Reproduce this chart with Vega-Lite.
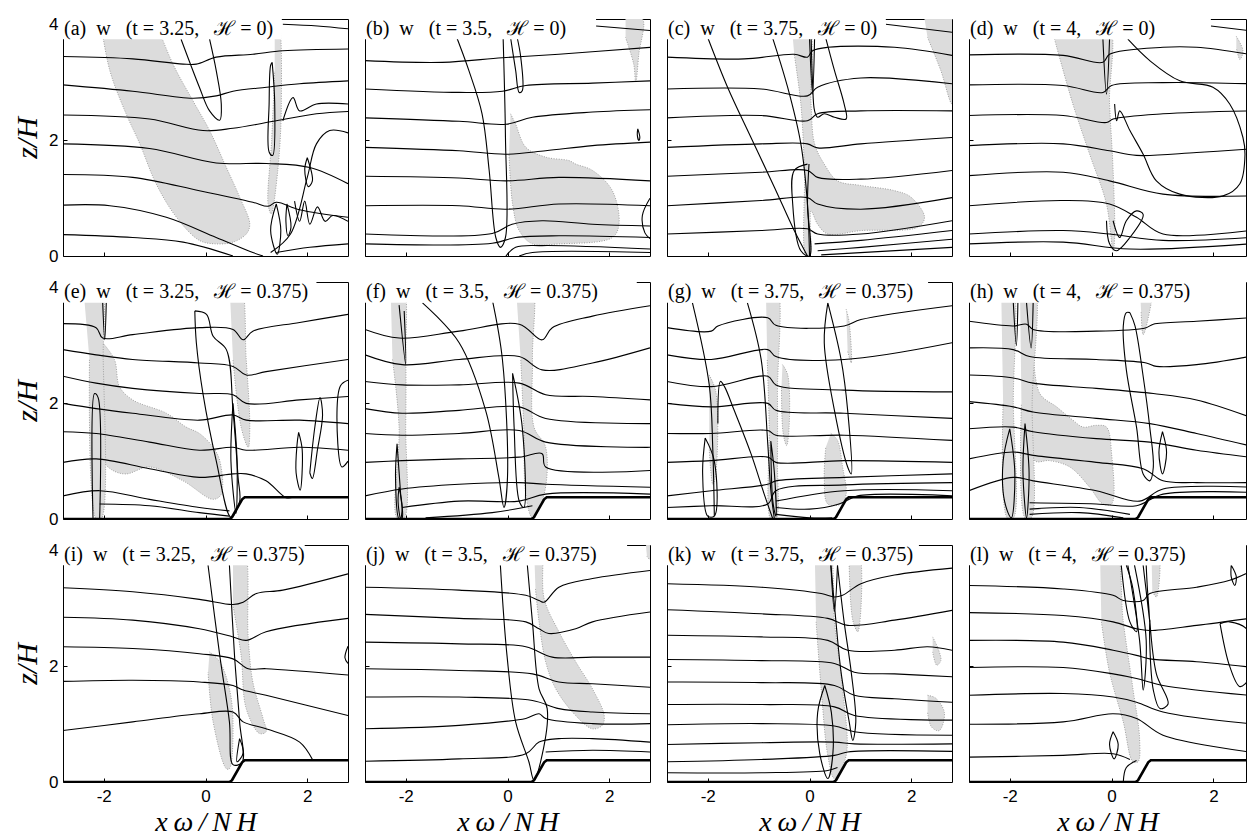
{
  "$schema": "https://vega.github.io/schema/vega-lite/v6.json",
  "background": "white",
  "padding": {"left": 12, "top": 12, "right": 0, "bottom": 0},
  "config": {
    "font": "Liberation Sans",
    "view": {"stroke": "black", "strokeWidth": 1, "fill": "white"},
    "axis": {"grid": false, "domain": false, "tickColor": "black", "tickSize": -4, "tickWidth": 1, "labelColor": "black", "labelFont": "Liberation Sans", "labelFontSize": 17, "titleColor": "black", "titleFont": "Liberation Serif", "titleFontStyle": "italic", "titleFontWeight": "normal", "titleFontSize": 30}
  },
  "datasets": {
    "titles": [
      {"p": "a", "t": "(a)\u2002w\u2002 (t = 3.25,\u2002 ℋ = 0)"},
      {"p": "b", "t": "(b)\u2002w\u2002 (t = 3.5,\u2002 ℋ = 0)"},
      {"p": "c", "t": "(c)\u2002w\u2002 (t = 3.75,\u2002 ℋ = 0)"},
      {"p": "d", "t": "(d)\u2002w\u2002 (t = 4,\u2002 ℋ = 0)"},
      {"p": "e", "t": "(e)\u2002w\u2002 (t = 3.25,\u2002 ℋ = 0.375)"},
      {"p": "f", "t": "(f)\u2002w\u2002 (t = 3.5,\u2002 ℋ = 0.375)"},
      {"p": "g", "t": "(g)\u2002w\u2002 (t = 3.75,\u2002 ℋ = 0.375)"},
      {"p": "h", "t": "(h)\u2002w\u2002 (t = 4,\u2002 ℋ = 0.375)"},
      {"p": "i", "t": "(i)\u2002w\u2002 (t = 3.25,\u2002 ℋ = 0.375)"},
      {"p": "j", "t": "(j)\u2002w\u2002 (t = 3.5,\u2002 ℋ = 0.375)"},
      {"p": "k", "t": "(k)\u2002w\u2002 (t = 3.75,\u2002 ℋ = 0.375)"},
      {"p": "l", "t": "(l)\u2002w\u2002 (t = 4,\u2002 ℋ = 0.375)"}
    ],
    "topo": [
      {"p":"e","x":-2.8,"y":0},{"p":"e","x":0.47,"y":0},{"p":"e","x":0.52,"y":0.03},{"p":"e","x":0.72,"y":0.34},{"p":"e","x":0.77,"y":0.375},{"p":"e","x":2.8,"y":0.375},
      {"p":"f","x":-2.8,"y":0},{"p":"f","x":0.47,"y":0},{"p":"f","x":0.52,"y":0.03},{"p":"f","x":0.72,"y":0.34},{"p":"f","x":0.77,"y":0.375},{"p":"f","x":2.8,"y":0.375},
      {"p":"g","x":-2.8,"y":0},{"p":"g","x":0.47,"y":0},{"p":"g","x":0.52,"y":0.03},{"p":"g","x":0.72,"y":0.34},{"p":"g","x":0.77,"y":0.375},{"p":"g","x":2.8,"y":0.375},
      {"p":"h","x":-2.8,"y":0},{"p":"h","x":0.47,"y":0},{"p":"h","x":0.52,"y":0.03},{"p":"h","x":0.72,"y":0.34},{"p":"h","x":0.77,"y":0.375},{"p":"h","x":2.8,"y":0.375},
      {"p":"i","x":-2.8,"y":0},{"p":"i","x":0.47,"y":0},{"p":"i","x":0.52,"y":0.03},{"p":"i","x":0.72,"y":0.34},{"p":"i","x":0.77,"y":0.375},{"p":"i","x":2.8,"y":0.375},
      {"p":"j","x":-2.8,"y":0},{"p":"j","x":0.47,"y":0},{"p":"j","x":0.52,"y":0.03},{"p":"j","x":0.72,"y":0.34},{"p":"j","x":0.77,"y":0.375},{"p":"j","x":2.8,"y":0.375},
      {"p":"k","x":-2.8,"y":0},{"p":"k","x":0.47,"y":0},{"p":"k","x":0.52,"y":0.03},{"p":"k","x":0.72,"y":0.34},{"p":"k","x":0.77,"y":0.375},{"p":"k","x":2.8,"y":0.375},
      {"p":"l","x":-2.8,"y":0},{"p":"l","x":0.47,"y":0},{"p":"l","x":0.52,"y":0.03},{"p":"l","x":0.72,"y":0.34},{"p":"l","x":0.77,"y":0.375},{"p":"l","x":2.8,"y":0.375}
    ],
    "fills": [
      {"p":"a","g":1,"x":-2.07,"y":4.1},{"p":"a","g":1,"x":-1.88,"y":3.21},{"p":"a","g":1,"x":-1.56,"y":2.46},{"p":"a","g":1,"x":-1.29,"y":1.94},{"p":"a","g":1,"x":-0.97,"y":1.25},{"p":"a","g":1,"x":-0.57,"y":0.67},{"p":"a","g":1,"x":-0.12,"y":0.27},{"p":"a","g":1,"x":0.21,"y":0.21},{"p":"a","g":1,"x":0.54,"y":0.24},{"p":"a","g":1,"x":0.8,"y":0.38},{"p":"a","g":1,"x":0.87,"y":0.55},{"p":"a","g":1,"x":0.67,"y":1.02},{"p":"a","g":1,"x":0.41,"y":1.53},{"p":"a","g":1,"x":0.08,"y":2.17},{"p":"a","g":1,"x":-0.25,"y":2.69},{"p":"a","g":1,"x":-0.64,"y":3.32},{"p":"a","g":1,"x":-1.0,"y":4.1},
      {"p":"a","g":2,"x":1.36,"y":4.1},{"p":"a","g":2,"x":1.42,"y":4.1},{"p":"a","g":2,"x":1.49,"y":2.63},{"p":"a","g":2,"x":1.42,"y":1.48},{"p":"a","g":2,"x":1.29,"y":0.73},{"p":"a","g":2,"x":1.23,"y":0.9},{"p":"a","g":2,"x":1.3,"y":2.0},{"p":"a","g":2,"x":1.36,"y":3.2},
      {"p":"b","g":1,"x":0.06,"y":2.46},{"p":"b","g":1,"x":0.16,"y":2.28},{"p":"b","g":1,"x":0.36,"y":1.88},{"p":"b","g":1,"x":0.75,"y":1.71},{"p":"b","g":1,"x":1.21,"y":1.65},{"p":"b","g":1,"x":1.34,"y":1.59},{"p":"b","g":1,"x":1.67,"y":1.48},{"p":"b","g":1,"x":2.06,"y":1.13},{"p":"b","g":1,"x":2.19,"y":0.55},{"p":"b","g":1,"x":2.06,"y":0.32},{"p":"b","g":1,"x":1.01,"y":0.21},{"p":"b","g":1,"x":0.49,"y":0.21},{"p":"b","g":1,"x":0.23,"y":0.44},{"p":"b","g":1,"x":0.1,"y":0.9},{"p":"b","g":1,"x":0.03,"y":1.77},
      {"p":"b","g":2,"x":2.32,"y":4.1},{"p":"b","g":2,"x":2.65,"y":4.1},{"p":"b","g":2,"x":2.58,"y":3.49},{"p":"b","g":2,"x":2.52,"y":3.0},{"p":"b","g":2,"x":2.48,"y":3.32},{"p":"b","g":2,"x":2.32,"y":3.78},
      {"p":"c","g":1,"x":-0.36,"y":4.1},{"p":"c","g":1,"x":-0.04,"y":4.1},{"p":"c","g":1,"x":0.03,"y":2.63},{"p":"c","g":1,"x":0.1,"y":1.94},{"p":"c","g":1,"x":0.29,"y":1.59},{"p":"c","g":1,"x":0.55,"y":1.3},{"p":"c","g":1,"x":1.01,"y":1.22},{"p":"c","g":1,"x":1.67,"y":1.13},{"p":"c","g":1,"x":1.99,"y":1.02},{"p":"c","g":1,"x":2.26,"y":0.67},{"p":"c","g":1,"x":2.13,"y":0.5},{"p":"c","g":1,"x":1.01,"y":0.44},{"p":"c","g":1,"x":0.36,"y":0.38},{"p":"c","g":1,"x":0.16,"y":0.55},{"p":"c","g":1,"x":0.03,"y":0.78},{"p":"c","g":1,"x":0.0,"y":0.0},{"p":"c","g":1,"x":-0.07,"y":0.0},{"p":"c","g":1,"x":-0.1,"y":1.48},{"p":"c","g":1,"x":-0.17,"y":2.63},{"p":"c","g":1,"x":-0.3,"y":3.49},
      {"p":"c","g":2,"x":2.26,"y":4.1},{"p":"c","g":2,"x":2.8,"y":4.1},{"p":"c","g":2,"x":2.8,"y":2.63},{"p":"c","g":2,"x":2.58,"y":3.21},{"p":"c","g":2,"x":2.32,"y":3.78},
      {"p":"d","g":1,"x":-1.15,"y":4.1},{"p":"d","g":1,"x":-0.1,"y":4.1},{"p":"d","g":1,"x":-0.04,"y":2.63},{"p":"d","g":1,"x":0.03,"y":1.48},{"p":"d","g":1,"x":0.06,"y":0.32},{"p":"d","g":1,"x":0.03,"y":0.09},{"p":"d","g":1,"x":-0.1,"y":0.9},{"p":"d","g":1,"x":-0.43,"y":1.76},{"p":"d","g":1,"x":-0.76,"y":2.63},{"p":"d","g":1,"x":-1.12,"y":3.75},
      {"p":"d","g":2,"x":2.45,"y":3.8},{"p":"d","g":2,"x":2.58,"y":3.55},{"p":"d","g":2,"x":2.52,"y":3.4},{"p":"d","g":2,"x":2.45,"y":3.6},
      {"p":"e","g":1,"x":-2.05,"y":3.08},{"p":"e","g":1,"x":-1.79,"y":2.76},{"p":"e","g":1,"x":-1.69,"y":2.29},{"p":"e","g":1,"x":-1.43,"y":2.06},{"p":"e","g":1,"x":-0.77,"y":1.83},{"p":"e","g":1,"x":-0.38,"y":1.59},{"p":"e","g":1,"x":-0.12,"y":1.48},{"p":"e","g":1,"x":0.15,"y":1.24},{"p":"e","g":1,"x":0.28,"y":1.01},{"p":"e","g":1,"x":0.31,"y":0.43},{"p":"e","g":1,"x":0.15,"y":0.34},{"p":"e","g":1,"x":-0.44,"y":0.66},{"p":"e","g":1,"x":-1.1,"y":0.9},{"p":"e","g":1,"x":-1.56,"y":0.78},{"p":"e","g":1,"x":-1.82,"y":0.84},{"p":"e","g":1,"x":-2.01,"y":1.01},{"p":"e","g":1,"x":-2.05,"y":1.59},{"p":"e","g":1,"x":-2.05,"y":2.76},
      {"p":"e","g":2,"x":-2.41,"y":4.1},{"p":"e","g":2,"x":-2.08,"y":4.1},{"p":"e","g":2,"x":-2.01,"y":2.76},{"p":"e","g":2,"x":-2.05,"y":0.0},{"p":"e","g":2,"x":-2.15,"y":0.0},{"p":"e","g":2,"x":-2.28,"y":2.76},
      {"p":"e","g":3,"x":0.47,"y":4.1},{"p":"e","g":3,"x":0.67,"y":4.1},{"p":"e","g":3,"x":0.8,"y":2.76},{"p":"e","g":3,"x":0.87,"y":1.59},{"p":"e","g":3,"x":0.84,"y":1.24},{"p":"e","g":3,"x":0.7,"y":1.59},{"p":"e","g":3,"x":0.54,"y":2.76},
      {"p":"f","g":1,"x":-2.3,"y":4.1},{"p":"f","g":1,"x":-2.07,"y":4.1},{"p":"f","g":1,"x":-2.0,"y":2.76},{"p":"f","g":1,"x":-2.0,"y":1.59},{"p":"f","g":1,"x":-2.03,"y":0.02},{"p":"f","g":1,"x":-2.17,"y":0.02},{"p":"f","g":1,"x":-2.13,"y":1.59},{"p":"f","g":1,"x":-2.26,"y":2.76},
      {"p":"f","g":2,"x":0.16,"y":4.1},{"p":"f","g":2,"x":0.46,"y":4.1},{"p":"f","g":2,"x":0.49,"y":2.76},{"p":"f","g":2,"x":0.52,"y":1.59},{"p":"f","g":2,"x":0.75,"y":1.24},{"p":"f","g":2,"x":0.72,"y":0.43},{"p":"f","g":2,"x":0.49,"y":0.02},{"p":"f","g":2,"x":0.36,"y":0.43},{"p":"f","g":2,"x":0.32,"y":1.59},{"p":"f","g":2,"x":0.26,"y":2.76},
      {"p":"g","g":1,"x":-0.86,"y":4.1},{"p":"g","g":1,"x":-0.66,"y":4.1},{"p":"g","g":1,"x":-0.63,"y":2.17},{"p":"g","g":1,"x":-0.63,"y":1.01},{"p":"g","g":1,"x":-0.66,"y":0.0},{"p":"g","g":1,"x":-0.76,"y":0.0},{"p":"g","g":1,"x":-0.79,"y":1.59},{"p":"g","g":1,"x":-0.83,"y":2.76},
      {"p":"g","g":2,"x":-0.53,"y":2.67},{"p":"g","g":2,"x":-0.43,"y":2.5},{"p":"g","g":2,"x":-0.4,"y":1.6},{"p":"g","g":2,"x":-0.45,"y":1.27},{"p":"g","g":2,"x":-0.52,"y":1.5},{"p":"g","g":2,"x":-0.55,"y":2.3},
      {"p":"g","g":3,"x":0.42,"y":1.48},{"p":"g","g":3,"x":0.55,"y":1.36},{"p":"g","g":3,"x":0.65,"y":0.9},{"p":"g","g":3,"x":0.72,"y":0.43},{"p":"g","g":3,"x":0.62,"y":0.26},{"p":"g","g":3,"x":0.36,"y":0.26},{"p":"g","g":3,"x":0.29,"y":0.72},{"p":"g","g":3,"x":0.32,"y":1.24},
      {"p":"g","g":4,"x":0.72,"y":3.63},{"p":"g","g":4,"x":0.78,"y":3.4},{"p":"g","g":4,"x":0.82,"y":2.7},{"p":"g","g":4,"x":0.75,"y":2.9},
      {"p":"g","g":5,"x":-1.97,"y":2.49},{"p":"g","g":5,"x":-1.84,"y":2.2},{"p":"g","g":5,"x":-1.84,"y":0.8},{"p":"g","g":5,"x":-1.9,"y":0.6},{"p":"g","g":5,"x":-1.97,"y":1.2},
      {"p":"h","g":1,"x":-1.54,"y":2.93},{"p":"h","g":1,"x":-1.41,"y":2.17},{"p":"h","g":1,"x":-1.08,"y":1.94},{"p":"h","g":1,"x":-0.76,"y":1.71},{"p":"h","g":1,"x":-0.56,"y":1.59},{"p":"h","g":1,"x":-0.3,"y":1.62},{"p":"h","g":1,"x":-0.1,"y":1.59},{"p":"h","g":1,"x":0.0,"y":1.13},{"p":"h","g":1,"x":0.0,"y":0.26},{"p":"h","g":1,"x":-0.17,"y":0.26},{"p":"h","g":1,"x":-0.43,"y":0.55},{"p":"h","g":1,"x":-0.82,"y":0.9},{"p":"h","g":1,"x":-1.22,"y":1.01},{"p":"h","g":1,"x":-1.51,"y":1.01},{"p":"h","g":1,"x":-1.58,"y":2.17},
      {"p":"h","g":2,"x":-2.17,"y":4.1},{"p":"h","g":2,"x":-1.97,"y":4.1},{"p":"h","g":2,"x":-1.93,"y":2.0},{"p":"h","g":2,"x":-1.93,"y":0.02},{"p":"h","g":2,"x":-2.05,"y":0.02},{"p":"h","g":2,"x":-2.13,"y":2.0},
      {"p":"h","g":3,"x":-1.8,"y":4.1},{"p":"h","g":3,"x":-1.54,"y":4.1},{"p":"h","g":3,"x":-1.56,"y":2.0},{"p":"h","g":3,"x":-1.58,"y":0.02},{"p":"h","g":3,"x":-1.7,"y":0.02},{"p":"h","g":3,"x":-1.77,"y":2.0},
      {"p":"h","g":4,"x":0.55,"y":4.1},{"p":"h","g":4,"x":0.78,"y":4.1},{"p":"h","g":4,"x":0.7,"y":3.4},{"p":"h","g":4,"x":0.62,"y":3.19},{"p":"h","g":4,"x":0.58,"y":3.6},
      {"p":"i","g":1,"x":0.08,"y":2.25},{"p":"i","g":1,"x":0.28,"y":2.08},{"p":"i","g":1,"x":0.47,"y":1.61},{"p":"i","g":1,"x":0.54,"y":1.04},{"p":"i","g":1,"x":0.47,"y":0.23},{"p":"i","g":1,"x":0.41,"y":0.23},{"p":"i","g":1,"x":0.15,"y":1.04},{"p":"i","g":1,"x":0.05,"y":1.9},
      {"p":"i","g":2,"x":0.54,"y":4.1},{"p":"i","g":2,"x":0.74,"y":4.1},{"p":"i","g":2,"x":0.84,"y":2.48},{"p":"i","g":2,"x":0.93,"y":1.73},{"p":"i","g":2,"x":1.13,"y":1.1},{"p":"i","g":2,"x":1.19,"y":0.87},{"p":"i","g":2,"x":1.06,"y":0.84},{"p":"i","g":2,"x":0.8,"y":1.27},{"p":"i","g":2,"x":0.7,"y":2.19},{"p":"i","g":2,"x":0.54,"y":3.06},
      {"p":"j","g":1,"x":0.52,"y":4.1},{"p":"j","g":1,"x":0.65,"y":4.1},{"p":"j","g":1,"x":0.72,"y":3.17},{"p":"j","g":1,"x":1.01,"y":2.6},{"p":"j","g":1,"x":1.34,"y":2.08},{"p":"j","g":1,"x":1.67,"y":1.61},{"p":"j","g":1,"x":1.9,"y":1.15},{"p":"j","g":1,"x":1.86,"y":0.98},{"p":"j","g":1,"x":1.67,"y":0.92},{"p":"j","g":1,"x":1.34,"y":1.15},{"p":"j","g":1,"x":0.95,"y":1.61},{"p":"j","g":1,"x":0.75,"y":2.08},{"p":"j","g":1,"x":0.62,"y":2.77},{"p":"j","g":1,"x":0.55,"y":3.34},
      {"p":"j","g":2,"x":2.72,"y":4.1},{"p":"j","g":2,"x":2.8,"y":4.1},{"p":"j","g":2,"x":2.8,"y":3.85},{"p":"j","g":2,"x":2.74,"y":3.9},
      {"p":"k","g":1,"x":0.1,"y":4.1},{"p":"k","g":1,"x":0.36,"y":4.1},{"p":"k","g":1,"x":0.49,"y":2.77},{"p":"k","g":1,"x":0.65,"y":1.61},{"p":"k","g":1,"x":0.72,"y":0.46},{"p":"k","g":1,"x":0.49,"y":0.06},{"p":"k","g":1,"x":0.36,"y":0.46},{"p":"k","g":1,"x":0.23,"y":1.61},{"p":"k","g":1,"x":0.13,"y":2.77},
      {"p":"k","g":2,"x":0.78,"y":4.1},{"p":"k","g":2,"x":0.95,"y":4.1},{"p":"k","g":2,"x":0.95,"y":2.6},{"p":"k","g":2,"x":0.85,"y":2.8},{"p":"k","g":2,"x":0.78,"y":3.75},
      {"p":"k","g":3,"x":2.42,"y":2.51},{"p":"k","g":3,"x":2.53,"y":2.3},{"p":"k","g":3,"x":2.58,"y":2.1},{"p":"k","g":3,"x":2.5,"y":2.02},{"p":"k","g":3,"x":2.42,"y":2.25},
      {"p":"k","g":4,"x":2.32,"y":1.5},{"p":"k","g":4,"x":2.48,"y":1.45},{"p":"k","g":4,"x":2.65,"y":1.2},{"p":"k","g":4,"x":2.55,"y":0.89},{"p":"k","g":4,"x":2.4,"y":0.95},{"p":"k","g":4,"x":2.32,"y":1.2},
      {"p":"l","g":1,"x":-0.23,"y":4.1},{"p":"l","g":1,"x":0.06,"y":4.1},{"p":"l","g":1,"x":0.23,"y":2.77},{"p":"l","g":1,"x":0.42,"y":1.61},{"p":"l","g":1,"x":0.55,"y":0.75},{"p":"l","g":1,"x":0.52,"y":0.35},{"p":"l","g":1,"x":0.42,"y":0.35},{"p":"l","g":1,"x":0.23,"y":1.04},{"p":"l","g":1,"x":-0.04,"y":1.9},{"p":"l","g":1,"x":-0.2,"y":2.77},
      {"p":"l","g":2,"x":0.78,"y":4.1},{"p":"l","g":2,"x":0.91,"y":4.1},{"p":"l","g":2,"x":0.88,"y":3.2},{"p":"l","g":2,"x":0.8,"y":3.3}
    ],
    "lines": [
      {"p":"a","g":0,"x":1.52,"y":4.01},{"p":"a","g":0,"x":2.2,"y":3.98},{"p":"a","g":0,"x":2.8,"y":3.93},
      {"p":"a","g":1,"x":-2.8,"y":3.45},{"p":"a","g":1,"x":-1.43,"y":3.41},{"p":"a","g":1,"x":-0.44,"y":3.32},{"p":"a","g":1,"x":-0.18,"y":3.32},{"p":"a","g":1,"x":0.21,"y":3.44},{"p":"a","g":1,"x":0.93,"y":3.49},{"p":"a","g":1,"x":1.52,"y":3.55},{"p":"a","g":1,"x":2.8,"y":3.58},
      {"p":"a","g":2,"x":-2.8,"y":2.96},{"p":"a","g":2,"x":-1.43,"y":2.85},{"p":"a","g":2,"x":-0.25,"y":2.73},{"p":"a","g":2,"x":0.21,"y":2.77},{"p":"a","g":2,"x":0.54,"y":2.85},{"p":"a","g":2,"x":1.2,"y":2.92},{"p":"a","g":2,"x":1.85,"y":2.98},{"p":"a","g":2,"x":2.8,"y":3.03},
      {"p":"a","g":3,"x":-2.8,"y":2.44},{"p":"a","g":3,"x":-1.1,"y":2.37},{"p":"a","g":3,"x":-0.05,"y":2.17},{"p":"a","g":3,"x":0.54,"y":2.21},{"p":"a","g":3,"x":1.39,"y":2.34},{"p":"a","g":3,"x":2.18,"y":2.46},{"p":"a","g":3,"x":2.8,"y":2.5},
      {"p":"a","g":4,"x":-2.8,"y":1.94},{"p":"a","g":4,"x":-1.1,"y":1.86},{"p":"a","g":4,"x":0.21,"y":1.61},{"p":"a","g":4,"x":1.2,"y":1.6},{"p":"a","g":4,"x":2.05,"y":1.53},{"p":"a","g":4,"x":2.8,"y":1.25},
      {"p":"a","g":5,"x":-2.8,"y":1.41},{"p":"a","g":5,"x":-1.43,"y":1.36},{"p":"a","g":5,"x":-0.12,"y":1.13},{"p":"a","g":5,"x":0.93,"y":0.93},{"p":"a","g":5,"x":1.23,"y":0.86},{"p":"a","g":5,"x":1.39,"y":0.93},{"p":"a","g":5,"x":1.85,"y":0.8},{"p":"a","g":5,"x":2.8,"y":0.67},
      {"p":"a","g":6,"x":-2.8,"y":0.88},{"p":"a","g":6,"x":-1.88,"y":0.87},{"p":"a","g":6,"x":-0.77,"y":0.67},{"p":"a","g":6,"x":0.21,"y":0.32},{"p":"a","g":6,"x":0.93,"y":0.06},{"p":"a","g":6,"x":1.13,"y":0.0},
      {"p":"a","g":7,"x":-2.8,"y":0.37},{"p":"a","g":7,"x":-1.43,"y":0.32},{"p":"a","g":7,"x":-0.44,"y":0.24},{"p":"a","g":7,"x":0.54,"y":0.0},
      {"p":"a","g":8,"x":1.39,"y":0.06},{"p":"a","g":8,"x":2.05,"y":0.15},{"p":"a","g":8,"x":2.8,"y":0.21},
      {"p":"a","g":9,"x":1.28,"y":0.06},{"p":"a","g":9,"x":1.67,"y":0.38},{"p":"a","g":9,"x":2.0,"y":1.36},{"p":"a","g":9,"x":2.18,"y":1.94},{"p":"a","g":9,"x":2.44,"y":2.17},{"p":"a","g":9,"x":2.8,"y":2.13},
      {"p":"a","g":10,"x":-0.48,"y":3.75},{"p":"a","g":10,"x":-0.12,"y":2.92},{"p":"a","g":10,"x":0.08,"y":2.51},{"p":"a","g":10,"x":0.28,"y":2.35},{"p":"a","g":10,"x":0.31,"y":2.63},{"p":"a","g":10,"x":0.21,"y":3.21},{"p":"a","g":10,"x":0.08,"y":3.75},
      {"p":"a","g":11,"x":1.31,"y":3.35},{"p":"a","g":11,"x":1.36,"y":2.63},{"p":"a","g":11,"x":1.32,"y":1.74},{"p":"a","g":11,"x":1.25,"y":1.8},{"p":"a","g":11,"x":1.25,"y":2.63},{"p":"a","g":11,"x":1.28,"y":3.3},{"p":"a","g":11,"x":1.31,"y":3.35},
      {"p":"a","g":12,"x":1.39,"y":0.9},{"p":"a","g":12,"x":1.48,"y":0.44},{"p":"a","g":12,"x":1.41,"y":0.03},{"p":"a","g":12,"x":1.28,"y":0.44},{"p":"a","g":12,"x":1.39,"y":0.9},
      {"p":"a","g":13,"x":2.0,"y":1.7},{"p":"a","g":13,"x":2.1,"y":1.3},{"p":"a","g":13,"x":2.02,"y":1.2},{"p":"a","g":13,"x":1.95,"y":1.5},{"p":"a","g":13,"x":2.0,"y":1.7},
      {"p":"a","g":14,"x":1.6,"y":0.9},{"p":"a","g":14,"x":1.68,"y":0.5},{"p":"a","g":14,"x":1.62,"y":0.35},{"p":"a","g":14,"x":1.58,"y":0.6},{"p":"a","g":14,"x":1.6,"y":0.9},
      {"p":"a","g":15,"x":1.75,"y":0.95},{"p":"a","g":15,"x":1.85,"y":0.6},{"p":"a","g":15,"x":1.95,"y":0.95},{"p":"a","g":15,"x":2.05,"y":0.55},{"p":"a","g":15,"x":2.2,"y":0.85},{"p":"a","g":15,"x":2.35,"y":0.6},{"p":"a","g":15,"x":2.5,"y":0.7},{"p":"a","g":15,"x":2.8,"y":0.6},
      {"p":"a","g":16,"x":1.52,"y":2.34},{"p":"a","g":16,"x":1.72,"y":2.74},{"p":"a","g":16,"x":1.85,"y":2.51},{"p":"a","g":16,"x":2.18,"y":2.63},{"p":"a","g":16,"x":2.8,"y":2.63},

      {"p":"b","g":0,"x":1.74,"y":3.98},{"p":"b","g":0,"x":2.8,"y":3.9},
      {"p":"b","g":1,"x":-2.8,"y":3.38},{"p":"b","g":1,"x":-1.28,"y":3.35},{"p":"b","g":1,"x":-0.1,"y":3.43},{"p":"b","g":1,"x":1.01,"y":3.49},{"p":"b","g":1,"x":2.8,"y":3.61},
      {"p":"b","g":2,"x":-2.8,"y":2.89},{"p":"b","g":2,"x":-0.95,"y":2.83},{"p":"b","g":2,"x":-0.1,"y":2.85},{"p":"b","g":2,"x":0.36,"y":2.95},{"p":"b","g":2,"x":1.67,"y":2.99},{"p":"b","g":2,"x":2.8,"y":3.03},
      {"p":"b","g":3,"x":-2.8,"y":2.39},{"p":"b","g":3,"x":-0.95,"y":2.33},{"p":"b","g":3,"x":-0.03,"y":2.28},{"p":"b","g":3,"x":0.49,"y":2.4},{"p":"b","g":3,"x":1.67,"y":2.49},{"p":"b","g":3,"x":2.8,"y":2.53},
      {"p":"b","g":4,"x":-2.8,"y":1.88},{"p":"b","g":4,"x":-0.95,"y":1.82},{"p":"b","g":4,"x":-0.03,"y":1.76},{"p":"b","g":4,"x":0.75,"y":1.82},{"p":"b","g":4,"x":1.67,"y":1.91},{"p":"b","g":4,"x":2.8,"y":1.97},
      {"p":"b","g":5,"x":-2.8,"y":1.38},{"p":"b","g":5,"x":-0.95,"y":1.35},{"p":"b","g":5,"x":-0.03,"y":1.3},{"p":"b","g":5,"x":1.01,"y":1.36},{"p":"b","g":5,"x":2.8,"y":1.3},
      {"p":"b","g":6,"x":-2.8,"y":0.87},{"p":"b","g":6,"x":-0.95,"y":0.87},{"p":"b","g":6,"x":-0.03,"y":0.81},{"p":"b","g":6,"x":1.01,"y":0.9},{"p":"b","g":6,"x":2.8,"y":0.87},
      {"p":"b","g":7,"x":-2.8,"y":0.38},{"p":"b","g":7,"x":-0.3,"y":0.39},{"p":"b","g":7,"x":0.09,"y":0.55},{"p":"b","g":7,"x":0.68,"y":0.61},{"p":"b","g":7,"x":1.67,"y":0.55},{"p":"b","g":7,"x":2.8,"y":0.52},
      {"p":"b","g":8,"x":-2.8,"y":0.21},{"p":"b","g":8,"x":-0.3,"y":0.22},{"p":"b","g":8,"x":0.16,"y":0.32},{"p":"b","g":8,"x":1.01,"y":0.35},{"p":"b","g":8,"x":2.8,"y":0.32},
      {"p":"b","g":9,"x":-0.03,"y":0.0},{"p":"b","g":9,"x":0.16,"y":0.15},{"p":"b","g":9,"x":0.68,"y":0.18},{"p":"b","g":9,"x":2.8,"y":0.12},
      {"p":"b","g":10,"x":0.23,"y":0.0},{"p":"b","g":10,"x":0.49,"y":0.06},{"p":"b","g":10,"x":2.8,"y":0.06},
      {"p":"b","g":11,"x":-1.05,"y":3.9},{"p":"b","g":11,"x":-0.76,"y":3.21},{"p":"b","g":11,"x":-0.5,"y":2.46},{"p":"b","g":11,"x":-0.36,"y":1.48},{"p":"b","g":11,"x":-0.23,"y":0.32},{"p":"b","g":11,"x":-0.14,"y":0.15},{"p":"b","g":11,"x":-0.04,"y":0.32},{"p":"b","g":11,"x":-0.04,"y":2.05},{"p":"b","g":11,"x":-0.09,"y":3.9},
      {"p":"b","g":12,"x":0.06,"y":3.78},{"p":"b","g":12,"x":0.16,"y":3.21},{"p":"b","g":12,"x":0.23,"y":2.83},{"p":"b","g":12,"x":0.29,"y":2.86},{"p":"b","g":12,"x":0.26,"y":3.44},{"p":"b","g":12,"x":0.19,"y":3.78},
      {"p":"b","g":13,"x":2.56,"y":2.2},{"p":"b","g":13,"x":2.6,"y":2.05},{"p":"b","g":13,"x":2.58,"y":2.0},{"p":"b","g":13,"x":2.55,"y":2.1},{"p":"b","g":13,"x":2.56,"y":2.2},
      {"p":"b","g":14,"x":2.8,"y":1.0},{"p":"b","g":14,"x":2.65,"y":0.7},{"p":"b","g":14,"x":2.7,"y":0.4},{"p":"b","g":14,"x":2.8,"y":0.3},

      {"p":"c","g":0,"x":1.5,"y":4.01},{"p":"c","g":0,"x":2.8,"y":3.87},
      {"p":"c","g":1,"x":-2.8,"y":3.44},{"p":"c","g":1,"x":-1.28,"y":3.41},{"p":"c","g":1,"x":-0.3,"y":3.49},{"p":"c","g":1,"x":-0.04,"y":3.44},{"p":"c","g":1,"x":0.06,"y":3.55},{"p":"c","g":1,"x":0.36,"y":3.61},{"p":"c","g":1,"x":1.67,"y":3.61},{"p":"c","g":1,"x":2.8,"y":3.47},
      {"p":"c","g":2,"x":-2.8,"y":2.89},{"p":"c","g":2,"x":-0.95,"y":2.89},{"p":"c","g":2,"x":-0.04,"y":2.77},{"p":"c","g":2,"x":0.16,"y":2.92},{"p":"c","g":2,"x":1.01,"y":3.08},{"p":"c","g":2,"x":2.8,"y":2.98},
      {"p":"c","g":3,"x":-2.8,"y":2.39},{"p":"c","g":3,"x":-0.95,"y":2.43},{"p":"c","g":3,"x":-0.04,"y":2.34},{"p":"c","g":3,"x":0.16,"y":2.46},{"p":"c","g":3,"x":1.01,"y":2.51},{"p":"c","g":3,"x":2.8,"y":2.51},
      {"p":"c","g":4,"x":-2.8,"y":1.88},{"p":"c","g":4,"x":-0.95,"y":1.94},{"p":"c","g":4,"x":-0.04,"y":1.94},{"p":"c","g":4,"x":0.16,"y":1.87},{"p":"c","g":4,"x":1.01,"y":1.94},{"p":"c","g":4,"x":2.8,"y":2.05},
      {"p":"c","g":5,"x":-2.8,"y":1.38},{"p":"c","g":5,"x":-0.95,"y":1.45},{"p":"c","g":5,"x":-0.04,"y":1.48},{"p":"c","g":5,"x":0.16,"y":1.36},{"p":"c","g":5,"x":1.01,"y":1.33},{"p":"c","g":5,"x":2.8,"y":1.48},
      {"p":"c","g":6,"x":-2.8,"y":0.87},{"p":"c","g":6,"x":-0.95,"y":0.96},{"p":"c","g":6,"x":-0.04,"y":1.01},{"p":"c","g":6,"x":0.16,"y":0.9},{"p":"c","g":6,"x":1.01,"y":0.81},{"p":"c","g":6,"x":2.8,"y":1.01},
      {"p":"c","g":7,"x":-2.8,"y":0.38},{"p":"c","g":7,"x":-0.95,"y":0.44},{"p":"c","g":7,"x":-0.04,"y":0.47},{"p":"c","g":7,"x":0.16,"y":0.38},{"p":"c","g":7,"x":1.01,"y":0.38},{"p":"c","g":7,"x":2.8,"y":0.61},
      {"p":"c","g":8,"x":0.1,"y":0.21},{"p":"c","g":8,"x":1.01,"y":0.27},{"p":"c","g":8,"x":2.8,"y":0.44},
      {"p":"c","g":9,"x":0.16,"y":0.09},{"p":"c","g":9,"x":1.01,"y":0.15},{"p":"c","g":9,"x":2.8,"y":0.29},
      {"p":"c","g":10,"x":0.23,"y":0.02},{"p":"c","g":10,"x":2.8,"y":0.15},
      {"p":"c","g":11,"x":-2.0,"y":3.78},{"p":"c","g":11,"x":-1.61,"y":2.92},{"p":"c","g":11,"x":-1.15,"y":2.05},{"p":"c","g":11,"x":-0.69,"y":1.19},{"p":"c","g":11,"x":-0.3,"y":0.44},{"p":"c","g":11,"x":-0.04,"y":0.0},
      {"p":"c","g":12,"x":-0.76,"y":3.87},{"p":"c","g":12,"x":-0.43,"y":2.92},{"p":"c","g":12,"x":-0.17,"y":1.94},{"p":"c","g":12,"x":-0.04,"y":0.9},{"p":"c","g":12,"x":0.0,"y":0.0},
      {"p":"c","g":13,"x":0.29,"y":3.87},{"p":"c","g":13,"x":0.49,"y":3.21},{"p":"c","g":13,"x":0.68,"y":2.63},{"p":"c","g":13,"x":0.72,"y":2.37},{"p":"c","g":13,"x":0.49,"y":2.4},{"p":"c","g":13,"x":0.29,"y":2.46},{"p":"c","g":13,"x":0.16,"y":2.4},{"p":"c","g":13,"x":0.1,"y":2.51},{"p":"c","g":13,"x":0.06,"y":3.0},{"p":"c","g":13,"x":0.03,"y":3.87},
      {"p":"c","g":14,"x":-0.04,"y":1.59},{"p":"c","g":14,"x":-0.3,"y":1.48},{"p":"c","g":14,"x":-0.33,"y":0.9},{"p":"c","g":14,"x":-0.17,"y":0.09},{"p":"c","g":14,"x":0.0,"y":0.0},{"p":"c","g":14,"x":-0.04,"y":0.9},{"p":"c","g":14,"x":-0.01,"y":1.59},
      {"p":"c","g":15,"x":0.0,"y":3.78},{"p":"c","g":15,"x":0.06,"y":2.8},{"p":"c","g":15,"x":0.1,"y":3.78},

      {"p":"d","g":0,"x":1.95,"y":3.98},{"p":"d","g":0,"x":2.7,"y":3.9},
      {"p":"d","g":1,"x":-2.8,"y":3.48},{"p":"d","g":1,"x":-0.95,"y":3.47},{"p":"d","g":1,"x":-0.17,"y":3.35},{"p":"d","g":1,"x":-0.04,"y":3.49},{"p":"d","g":1,"x":1.01,"y":3.61},{"p":"d","g":1,"x":1.67,"y":3.61},{"p":"d","g":1,"x":2.7,"y":3.49},
      {"p":"d","g":2,"x":-2.8,"y":2.96},{"p":"d","g":2,"x":-0.95,"y":2.95},{"p":"d","g":2,"x":-0.17,"y":2.83},{"p":"d","g":2,"x":0.0,"y":2.95},{"p":"d","g":2,"x":1.01,"y":3.0},{"p":"d","g":2,"x":2.7,"y":2.98},
      {"p":"d","g":3,"x":-2.8,"y":2.43},{"p":"d","g":3,"x":-0.95,"y":2.43},{"p":"d","g":3,"x":-0.1,"y":2.31},{"p":"d","g":3,"x":0.03,"y":2.37},{"p":"d","g":3,"x":1.01,"y":2.46},{"p":"d","g":3,"x":2.7,"y":2.51},
      {"p":"d","g":4,"x":-2.8,"y":1.91},{"p":"d","g":4,"x":-0.95,"y":1.94},{"p":"d","g":4,"x":-0.04,"y":1.82},{"p":"d","g":4,"x":0.49,"y":1.74},{"p":"d","g":4,"x":1.67,"y":1.79},{"p":"d","g":4,"x":2.7,"y":1.85},
      {"p":"d","g":5,"x":-2.8,"y":1.39},{"p":"d","g":5,"x":-0.95,"y":1.45},{"p":"d","g":5,"x":-0.04,"y":1.3},{"p":"d","g":5,"x":1.01,"y":1.07},{"p":"d","g":5,"x":2.7,"y":1.04},
      {"p":"d","g":6,"x":-2.8,"y":0.87},{"p":"d","g":6,"x":-0.95,"y":0.96},{"p":"d","g":6,"x":-0.04,"y":0.9},{"p":"d","g":6,"x":0.49,"y":0.67},{"p":"d","g":6,"x":1.01,"y":0.38},{"p":"d","g":6,"x":2.7,"y":0.44},
      {"p":"d","g":7,"x":-2.8,"y":0.38},{"p":"d","g":7,"x":-0.95,"y":0.44},{"p":"d","g":7,"x":-0.04,"y":0.38},{"p":"d","g":7,"x":1.01,"y":0.27},{"p":"d","g":7,"x":2.7,"y":0.32},
      {"p":"d","g":8,"x":-2.8,"y":0.21},{"p":"d","g":8,"x":-0.95,"y":0.24},{"p":"d","g":8,"x":0.36,"y":0.12},{"p":"d","g":8,"x":2.7,"y":0.21},
      {"p":"d","g":9,"x":0.32,"y":3.75},{"p":"d","g":9,"x":0.75,"y":3.38},{"p":"d","g":9,"x":1.34,"y":3.03},{"p":"d","g":9,"x":1.99,"y":2.92},{"p":"d","g":9,"x":2.32,"y":2.63},{"p":"d","g":9,"x":2.58,"y":2.05},{"p":"d","g":9,"x":2.62,"y":1.76},{"p":"d","g":9,"x":2.52,"y":1.25},{"p":"d","g":9,"x":2.19,"y":1.04},{"p":"d","g":9,"x":1.34,"y":1.07},{"p":"d","g":9,"x":0.88,"y":1.3},{"p":"d","g":9,"x":0.62,"y":1.76},{"p":"d","g":9,"x":0.36,"y":2.17},{"p":"d","g":9,"x":0.16,"y":2.51},{"p":"d","g":9,"x":0.1,"y":2.34},{"p":"d","g":9,"x":0.06,"y":2.63},
      {"p":"d","g":10,"x":-0.1,"y":0.61},{"p":"d","g":10,"x":-0.04,"y":0.21},{"p":"d","g":10,"x":0.09,"y":0.09},{"p":"d","g":10,"x":0.36,"y":0.32},{"p":"d","g":10,"x":0.62,"y":0.72},{"p":"d","g":10,"x":0.49,"y":0.78},{"p":"d","g":10,"x":0.29,"y":0.61},{"p":"d","g":10,"x":0.16,"y":0.32},{"p":"d","g":10,"x":0.03,"y":0.61},
      {"p":"d","g":11,"x":-0.17,"y":3.75},{"p":"d","g":11,"x":-0.1,"y":2.8},{"p":"d","g":11,"x":-0.04,"y":3.75},

      {"p":"e","g":1,"x":-2.8,"y":3.38},{"p":"e","g":1,"x":-2.15,"y":3.31},{"p":"e","g":1,"x":-2.02,"y":3.13},{"p":"e","g":1,"x":-1.43,"y":3.19},{"p":"e","g":1,"x":-0.12,"y":3.31},{"p":"e","g":1,"x":0.54,"y":3.28},{"p":"e","g":1,"x":0.74,"y":3.1},{"p":"e","g":1,"x":0.93,"y":3.25},{"p":"e","g":1,"x":1.85,"y":3.4},{"p":"e","g":1,"x":2.8,"y":3.54},
      {"p":"e","g":2,"x":-2.8,"y":2.93},{"p":"e","g":2,"x":-2.15,"y":2.84},{"p":"e","g":2,"x":-1.43,"y":2.76},{"p":"e","g":2,"x":-0.12,"y":2.7},{"p":"e","g":2,"x":0.54,"y":2.64},{"p":"e","g":2,"x":0.8,"y":2.49},{"p":"e","g":2,"x":1.19,"y":2.55},{"p":"e","g":2,"x":2.8,"y":2.76},
      {"p":"e","g":3,"x":-2.8,"y":2.47},{"p":"e","g":3,"x":-2.15,"y":2.35},{"p":"e","g":3,"x":-1.43,"y":2.26},{"p":"e","g":3,"x":-0.12,"y":2.17},{"p":"e","g":3,"x":0.54,"y":2.15},{"p":"e","g":3,"x":0.8,"y":2.0},{"p":"e","g":3,"x":1.85,"y":2.06},{"p":"e","g":3,"x":2.8,"y":2.12},
      {"p":"e","g":4,"x":-2.8,"y":2.0},{"p":"e","g":4,"x":-2.15,"y":1.91},{"p":"e","g":4,"x":-1.43,"y":1.83},{"p":"e","g":4,"x":-0.12,"y":1.71},{"p":"e","g":4,"x":0.54,"y":1.8},{"p":"e","g":4,"x":0.8,"y":1.71},{"p":"e","g":4,"x":1.85,"y":1.71},{"p":"e","g":4,"x":2.8,"y":1.65},
      {"p":"e","g":5,"x":-2.8,"y":1.51},{"p":"e","g":5,"x":-2.15,"y":1.48},{"p":"e","g":5,"x":-1.1,"y":1.33},{"p":"e","g":5,"x":-0.12,"y":1.19},{"p":"e","g":5,"x":0.54,"y":1.24},{"p":"e","g":5,"x":0.8,"y":1.19},{"p":"e","g":5,"x":1.85,"y":1.24},{"p":"e","g":5,"x":2.8,"y":1.19},
      {"p":"e","g":6,"x":-2.8,"y":0.98},{"p":"e","g":6,"x":-2.15,"y":1.04},{"p":"e","g":6,"x":-1.1,"y":0.87},{"p":"e","g":6,"x":-0.12,"y":0.72},{"p":"e","g":6,"x":0.54,"y":0.78},{"p":"e","g":6,"x":0.8,"y":0.78},{"p":"e","g":6,"x":1.19,"y":0.66},{"p":"e","g":6,"x":1.58,"y":0.37},{"p":"e","g":6,"x":1.72,"y":0.375},
      {"p":"e","g":7,"x":-2.8,"y":0.4},{"p":"e","g":7,"x":-2.08,"y":0.49},{"p":"e","g":7,"x":-1.1,"y":0.34},{"p":"e","g":7,"x":-0.12,"y":0.2},{"p":"e","g":7,"x":0.47,"y":0.14},
      {"p":"e","g":8,"x":-2.08,"y":0.26},{"p":"e","g":8,"x":-1.1,"y":0.23},{"p":"e","g":8,"x":-0.12,"y":0.11},{"p":"e","g":8,"x":0.47,"y":0.05},
      {"p":"e","g":9,"x":-0.21,"y":3.6},{"p":"e","g":9,"x":0.02,"y":3.54},{"p":"e","g":9,"x":0.15,"y":3.16},{"p":"e","g":9,"x":0.41,"y":2.93},{"p":"e","g":9,"x":0.54,"y":1.88},{"p":"e","g":9,"x":0.64,"y":0.72},{"p":"e","g":9,"x":0.67,"y":0.3},{"p":"e","g":9,"x":0.5,"y":0.03},{"p":"e","g":9,"x":0.21,"y":1.01},{"p":"e","g":9,"x":-0.05,"y":2.17},{"p":"e","g":9,"x":-0.18,"y":3.05},{"p":"e","g":9,"x":-0.21,"y":3.6},
      {"p":"e","g":10,"x":-2.21,"y":0.0},{"p":"e","g":10,"x":-2.18,"y":2.17},{"p":"e","g":10,"x":-2.11,"y":2.1},{"p":"e","g":10,"x":-2.08,"y":0.0},
      {"p":"e","g":11,"x":-2.02,"y":3.74},{"p":"e","g":11,"x":-1.98,"y":3.1},{"p":"e","g":11,"x":-1.95,"y":3.74},
      {"p":"e","g":12,"x":0.54,"y":2.0},{"p":"e","g":12,"x":0.62,"y":1.0},{"p":"e","g":12,"x":0.6,"y":0.1},{"p":"e","g":12,"x":0.5,"y":1.0},{"p":"e","g":12,"x":0.54,"y":2.0},
      {"p":"e","g":13,"x":1.83,"y":1.5},{"p":"e","g":13,"x":1.9,"y":1.2},{"p":"e","g":13,"x":1.86,"y":0.5},{"p":"e","g":13,"x":1.78,"y":0.8},{"p":"e","g":13,"x":1.8,"y":1.3},{"p":"e","g":13,"x":1.83,"y":1.5},
      {"p":"e","g":14,"x":2.05,"y":0.8},{"p":"e","g":14,"x":2.15,"y":1.6},{"p":"e","g":14,"x":2.25,"y":2.1},{"p":"e","g":14,"x":2.3,"y":1.8},{"p":"e","g":14,"x":2.2,"y":1.2},{"p":"e","g":14,"x":2.1,"y":0.7},{"p":"e","g":14,"x":2.05,"y":0.8},
      {"p":"e","g":15,"x":2.8,"y":2.4},{"p":"e","g":15,"x":2.65,"y":2.3},{"p":"e","g":15,"x":2.6,"y":1.3},{"p":"e","g":15,"x":2.68,"y":0.9},{"p":"e","g":15,"x":2.8,"y":1.0},

      {"p":"f","g":1,"x":-2.8,"y":3.28},{"p":"f","g":1,"x":-2.13,"y":3.13},{"p":"f","g":1,"x":-0.95,"y":3.25},{"p":"f","g":1,"x":0.23,"y":3.37},{"p":"f","g":1,"x":0.68,"y":3.1},{"p":"f","g":1,"x":0.88,"y":3.31},{"p":"f","g":1,"x":1.67,"y":3.51},{"p":"f","g":1,"x":2.8,"y":3.69},
      {"p":"f","g":2,"x":-2.8,"y":2.84},{"p":"f","g":2,"x":-2.07,"y":2.67},{"p":"f","g":2,"x":-0.95,"y":2.76},{"p":"f","g":2,"x":0.23,"y":2.81},{"p":"f","g":2,"x":0.68,"y":2.58},{"p":"f","g":2,"x":1.67,"y":2.7},{"p":"f","g":2,"x":2.8,"y":2.96},
      {"p":"f","g":3,"x":-2.8,"y":2.38},{"p":"f","g":3,"x":-2.07,"y":2.32},{"p":"f","g":3,"x":-0.95,"y":2.32},{"p":"f","g":3,"x":0.23,"y":2.35},{"p":"f","g":3,"x":0.75,"y":2.15},{"p":"f","g":3,"x":1.67,"y":2.12},{"p":"f","g":3,"x":2.8,"y":2.06},
      {"p":"f","g":4,"x":-2.8,"y":1.91},{"p":"f","g":4,"x":-2.07,"y":1.83},{"p":"f","g":4,"x":-0.95,"y":1.88},{"p":"f","g":4,"x":0.23,"y":1.94},{"p":"f","g":4,"x":0.75,"y":1.74},{"p":"f","g":4,"x":2.8,"y":1.65},
      {"p":"f","g":5,"x":-2.8,"y":1.48},{"p":"f","g":5,"x":-2.07,"y":1.45},{"p":"f","g":5,"x":-0.95,"y":1.48},{"p":"f","g":5,"x":0.23,"y":1.53},{"p":"f","g":5,"x":0.75,"y":1.33},{"p":"f","g":5,"x":2.8,"y":1.24},
      {"p":"f","g":6,"x":-2.8,"y":0.98},{"p":"f","g":6,"x":-2.07,"y":1.01},{"p":"f","g":6,"x":-0.95,"y":1.04},{"p":"f","g":6,"x":0.23,"y":1.07},{"p":"f","g":6,"x":0.68,"y":1.13},{"p":"f","g":6,"x":0.75,"y":0.9},{"p":"f","g":6,"x":2.8,"y":0.84},
      {"p":"f","g":7,"x":-2.8,"y":0.4},{"p":"f","g":7,"x":-2.07,"y":0.52},{"p":"f","g":7,"x":-0.95,"y":0.6},{"p":"f","g":7,"x":0.23,"y":0.63},{"p":"f","g":7,"x":0.75,"y":0.6},{"p":"f","g":7,"x":2.8,"y":0.55},
      {"p":"f","g":8,"x":-2.07,"y":0.2},{"p":"f","g":8,"x":-0.95,"y":0.31},{"p":"f","g":8,"x":0.23,"y":0.31},{"p":"f","g":8,"x":0.75,"y":0.43},{"p":"f","g":8,"x":2.8,"y":0.43},
      {"p":"f","g":9,"x":-1.61,"y":0.02},{"p":"f","g":9,"x":-0.3,"y":0.11},{"p":"f","g":9,"x":0.49,"y":0.23},
      {"p":"f","g":10,"x":-2.13,"y":3.7},{"p":"f","g":10,"x":-2.0,"y":2.67},{"p":"f","g":10,"x":-2.03,"y":3.6},
      {"p":"f","g":11,"x":-1.67,"y":3.74},{"p":"f","g":11,"x":-0.95,"y":3.05},{"p":"f","g":11,"x":-0.43,"y":1.88},{"p":"f","g":11,"x":-0.17,"y":0.72},{"p":"f","g":11,"x":-0.07,"y":0.2},{"p":"f","g":11,"x":0.0,"y":0.72},{"p":"f","g":11,"x":-0.1,"y":2.76},{"p":"f","g":11,"x":-0.3,"y":3.8},
      {"p":"f","g":12,"x":0.1,"y":2.52},{"p":"f","g":12,"x":0.29,"y":1.59},{"p":"f","g":12,"x":0.32,"y":0.2},{"p":"f","g":12,"x":0.23,"y":0.31},{"p":"f","g":12,"x":0.13,"y":1.59},{"p":"f","g":12,"x":0.1,"y":2.52},
      {"p":"f","g":13,"x":-2.17,"y":1.3},{"p":"f","g":13,"x":-2.1,"y":0.43},{"p":"f","g":13,"x":-2.07,"y":0.02},{"p":"f","g":13,"x":-2.13,"y":0.0},{"p":"f","g":13,"x":-2.2,"y":0.72},{"p":"f","g":13,"x":-2.17,"y":1.3},
      {"p":"f","g":14,"x":-2.13,"y":0.55},{"p":"f","g":14,"x":-2.07,"y":0.2},{"p":"f","g":14,"x":-2.1,"y":0.0},{"p":"f","g":14,"x":-2.15,"y":0.3},{"p":"f","g":14,"x":-2.13,"y":0.55},

      {"p":"g","g":1,"x":-2.8,"y":3.31},{"p":"g","g":1,"x":-1.93,"y":3.25},{"p":"g","g":1,"x":-1.8,"y":3.34},{"p":"g","g":1,"x":-0.82,"y":3.48},{"p":"g","g":1,"x":-0.66,"y":3.35},{"p":"g","g":1,"x":0.68,"y":3.34},{"p":"g","g":1,"x":1.01,"y":3.45},{"p":"g","g":1,"x":2.8,"y":3.69},
      {"p":"g","g":2,"x":-2.8,"y":2.84},{"p":"g","g":2,"x":-1.93,"y":2.76},{"p":"g","g":2,"x":-0.82,"y":2.93},{"p":"g","g":2,"x":-0.66,"y":2.81},{"p":"g","g":2,"x":0.68,"y":2.76},{"p":"g","g":2,"x":2.8,"y":3.05},
      {"p":"g","g":3,"x":-2.8,"y":2.38},{"p":"g","g":3,"x":-1.93,"y":2.29},{"p":"g","g":3,"x":-0.82,"y":2.47},{"p":"g","g":3,"x":-0.66,"y":2.32},{"p":"g","g":3,"x":0.68,"y":2.23},{"p":"g","g":3,"x":2.8,"y":2.2},
      {"p":"g","g":4,"x":-2.8,"y":2.0},{"p":"g","g":4,"x":-1.93,"y":1.94},{"p":"g","g":4,"x":-0.82,"y":2.0},{"p":"g","g":4,"x":-0.66,"y":1.88},{"p":"g","g":4,"x":0.68,"y":1.83},{"p":"g","g":4,"x":2.8,"y":1.74},
      {"p":"g","g":5,"x":-2.8,"y":1.48},{"p":"g","g":5,"x":-1.93,"y":1.48},{"p":"g","g":5,"x":-0.82,"y":1.53},{"p":"g","g":5,"x":-0.66,"y":1.45},{"p":"g","g":5,"x":0.68,"y":1.45},{"p":"g","g":5,"x":2.8,"y":1.36},
      {"p":"g","g":6,"x":-2.8,"y":0.98},{"p":"g","g":6,"x":-1.93,"y":1.01},{"p":"g","g":6,"x":-0.82,"y":1.07},{"p":"g","g":6,"x":-0.66,"y":0.98},{"p":"g","g":6,"x":0.68,"y":1.01},{"p":"g","g":6,"x":2.8,"y":0.98},
      {"p":"g","g":7,"x":-2.8,"y":0.4},{"p":"g","g":7,"x":-1.93,"y":0.49},{"p":"g","g":7,"x":-0.82,"y":0.6},{"p":"g","g":7,"x":-0.66,"y":0.66},{"p":"g","g":7,"x":0.68,"y":0.72},{"p":"g","g":7,"x":2.8,"y":0.78},
      {"p":"g","g":8,"x":-2.8,"y":0.2},{"p":"g","g":8,"x":-1.93,"y":0.23},{"p":"g","g":8,"x":-0.82,"y":0.26},{"p":"g","g":8,"x":-0.66,"y":0.49},{"p":"g","g":8,"x":0.68,"y":0.59},{"p":"g","g":8,"x":2.8,"y":0.63},
      {"p":"g","g":9,"x":-0.66,"y":0.31},{"p":"g","g":9,"x":0.68,"y":0.49},{"p":"g","g":9,"x":2.8,"y":0.49},
      {"p":"g","g":10,"x":-0.66,"y":0.2},{"p":"g","g":10,"x":0.0,"y":0.17},{"p":"g","g":10,"x":0.58,"y":0.26},{"p":"g","g":10,"x":0.95,"y":0.4},{"p":"g","g":10,"x":2.8,"y":0.4},
      {"p":"g","g":11,"x":-0.66,"y":0.08},{"p":"g","g":11,"x":0.0,"y":0.02},{"p":"g","g":11,"x":0.45,"y":0.02},
      {"p":"g","g":12,"x":-2.3,"y":3.74},{"p":"g","g":12,"x":-1.97,"y":2.32},{"p":"g","g":12,"x":-1.9,"y":1.2},{"p":"g","g":12,"x":-1.87,"y":0.05},
      {"p":"g","g":13,"x":-2.05,"y":1.4},{"p":"g","g":13,"x":-1.87,"y":1.0},{"p":"g","g":13,"x":-1.87,"y":0.05},{"p":"g","g":13,"x":-2.0,"y":0.05},{"p":"g","g":13,"x":-2.1,"y":0.8},{"p":"g","g":13,"x":-2.05,"y":1.4},
      {"p":"g","g":14,"x":-1.22,"y":3.74},{"p":"g","g":14,"x":-0.95,"y":2.76},{"p":"g","g":14,"x":-0.82,"y":1.3},{"p":"g","g":14,"x":-0.76,"y":0.5},{"p":"g","g":14,"x":-0.69,"y":0.0},
      {"p":"g","g":15,"x":-1.8,"y":1.65},{"p":"g","g":15,"x":-1.75,"y":2.38},{"p":"g","g":15,"x":-1.67,"y":2.29},{"p":"g","g":15,"x":-1.48,"y":1.88},{"p":"g","g":15,"x":-1.15,"y":1.13},{"p":"g","g":15,"x":-0.89,"y":0.43},{"p":"g","g":15,"x":-0.72,"y":0.0},
      {"p":"g","g":16,"x":0.36,"y":3.74},{"p":"g","g":16,"x":0.62,"y":2.76},{"p":"g","g":16,"x":0.75,"y":1.88},{"p":"g","g":16,"x":0.82,"y":0.78},{"p":"g","g":16,"x":0.75,"y":0.9},{"p":"g","g":16,"x":0.49,"y":1.88},{"p":"g","g":16,"x":0.29,"y":3.05},{"p":"g","g":16,"x":0.36,"y":3.74},
      {"p":"g","g":17,"x":-0.76,"y":1.35},{"p":"g","g":17,"x":-0.69,"y":0.8},{"p":"g","g":17,"x":-0.66,"y":0.05},{"p":"g","g":17,"x":-0.72,"y":0.3},{"p":"g","g":17,"x":-0.76,"y":1.35},

      {"p":"h","g":1,"x":-2.8,"y":3.42},{"p":"h","g":1,"x":-1.93,"y":3.34},{"p":"h","g":1,"x":-1.67,"y":3.37},{"p":"h","g":1,"x":-1.54,"y":3.28},{"p":"h","g":1,"x":-0.3,"y":3.25},{"p":"h","g":1,"x":0.68,"y":3.31},{"p":"h","g":1,"x":0.82,"y":3.37},{"p":"h","g":1,"x":1.67,"y":3.42},{"p":"h","g":1,"x":2.7,"y":3.48},
      {"p":"h","g":2,"x":-2.8,"y":2.96},{"p":"h","g":2,"x":-1.93,"y":2.93},{"p":"h","g":2,"x":-1.61,"y":2.81},{"p":"h","g":2,"x":-0.3,"y":2.76},{"p":"h","g":2,"x":0.68,"y":2.7},{"p":"h","g":2,"x":0.88,"y":2.64},{"p":"h","g":2,"x":1.67,"y":2.67},{"p":"h","g":2,"x":2.7,"y":2.81},
      {"p":"h","g":3,"x":-2.8,"y":2.49},{"p":"h","g":3,"x":-1.93,"y":2.44},{"p":"h","g":3,"x":-1.54,"y":2.35},{"p":"h","g":3,"x":-0.3,"y":2.26},{"p":"h","g":3,"x":0.82,"y":2.17},{"p":"h","g":3,"x":1.67,"y":2.06},{"p":"h","g":3,"x":2.7,"y":1.77},
      {"p":"h","g":4,"x":-2.8,"y":2.03},{"p":"h","g":4,"x":-1.93,"y":1.94},{"p":"h","g":4,"x":-1.54,"y":1.85},{"p":"h","g":4,"x":-0.3,"y":1.74},{"p":"h","g":4,"x":0.75,"y":1.65},{"p":"h","g":4,"x":1.67,"y":1.48},{"p":"h","g":4,"x":2.7,"y":1.27},
      {"p":"h","g":5,"x":-2.8,"y":1.56},{"p":"h","g":5,"x":-1.93,"y":1.59},{"p":"h","g":5,"x":-1.54,"y":1.51},{"p":"h","g":5,"x":-0.3,"y":1.39},{"p":"h","g":5,"x":0.75,"y":1.33},{"p":"h","g":5,"x":1.67,"y":1.19},{"p":"h","g":5,"x":2.7,"y":1.07},
      {"p":"h","g":6,"x":-2.8,"y":1.04},{"p":"h","g":6,"x":-1.93,"y":1.16},{"p":"h","g":6,"x":-1.54,"y":1.1},{"p":"h","g":6,"x":-0.3,"y":0.98},{"p":"h","g":6,"x":0.62,"y":0.87},{"p":"h","g":6,"x":1.01,"y":0.66},{"p":"h","g":6,"x":1.67,"y":0.63},{"p":"h","g":6,"x":2.7,"y":0.63},
      {"p":"h","g":7,"x":-2.8,"y":0.49},{"p":"h","g":7,"x":-1.93,"y":0.72},{"p":"h","g":7,"x":-1.54,"y":0.66},{"p":"h","g":7,"x":-0.3,"y":0.49},{"p":"h","g":7,"x":0.55,"y":0.31},{"p":"h","g":7,"x":1.01,"y":0.52},{"p":"h","g":7,"x":2.7,"y":0.55},
      {"p":"h","g":8,"x":-1.61,"y":0.28},{"p":"h","g":8,"x":-0.3,"y":0.26},{"p":"h","g":8,"x":0.49,"y":0.23},{"p":"h","g":8,"x":1.01,"y":0.43},{"p":"h","g":8,"x":2.7,"y":0.46},
      {"p":"h","g":9,"x":-1.61,"y":0.17},{"p":"h","g":9,"x":-0.63,"y":0.2},{"p":"h","g":9,"x":0.36,"y":0.08},
      {"p":"h","g":10,"x":-1.61,"y":0.08},{"p":"h","g":10,"x":-0.63,"y":0.11},{"p":"h","g":10,"x":0.23,"y":0.02},
      {"p":"h","g":11,"x":0.36,"y":3.57},{"p":"h","g":11,"x":0.46,"y":3.34},{"p":"h","g":11,"x":0.62,"y":2.47},{"p":"h","g":11,"x":0.75,"y":1.59},{"p":"h","g":11,"x":0.82,"y":0.9},{"p":"h","g":11,"x":0.75,"y":0.66},{"p":"h","g":11,"x":0.62,"y":0.78},{"p":"h","g":11,"x":0.49,"y":1.59},{"p":"h","g":11,"x":0.29,"y":2.58},{"p":"h","g":11,"x":0.23,"y":3.34},{"p":"h","g":11,"x":0.29,"y":3.57},{"p":"h","g":11,"x":0.36,"y":3.57},
      {"p":"h","g":12,"x":1.0,"y":1.51},{"p":"h","g":12,"x":1.08,"y":1.15},{"p":"h","g":12,"x":1.0,"y":0.78},{"p":"h","g":12,"x":0.93,"y":1.15},{"p":"h","g":12,"x":1.0,"y":1.51},
      {"p":"h","g":13,"x":-2.0,"y":1.56},{"p":"h","g":13,"x":-1.9,"y":0.8},{"p":"h","g":13,"x":-1.97,"y":0.02},{"p":"h","g":13,"x":-2.1,"y":0.3},{"p":"h","g":13,"x":-2.13,"y":1.0},{"p":"h","g":13,"x":-2.0,"y":1.56},
      {"p":"h","g":14,"x":-1.7,"y":1.65},{"p":"h","g":14,"x":-1.62,"y":0.8},{"p":"h","g":14,"x":-1.67,"y":0.02},{"p":"h","g":14,"x":-1.74,"y":0.8},{"p":"h","g":14,"x":-1.7,"y":1.65},
      {"p":"h","g":15,"x":-1.93,"y":3.74},{"p":"h","g":15,"x":-1.87,"y":3.0},{"p":"h","g":15,"x":-1.84,"y":3.74},
      {"p":"h","g":16,"x":-1.67,"y":3.74},{"p":"h","g":16,"x":-1.58,"y":2.96},{"p":"h","g":16,"x":-1.54,"y":3.74},

      {"p":"i","g":1,"x":-2.8,"y":3.36},{"p":"i","g":1,"x":-1.43,"y":3.29},{"p":"i","g":1,"x":-0.12,"y":3.16},{"p":"i","g":1,"x":0.54,"y":3.07},{"p":"i","g":1,"x":0.74,"y":3.11},{"p":"i","g":1,"x":1.0,"y":3.26},{"p":"i","g":1,"x":1.52,"y":3.32},{"p":"i","g":1,"x":2.8,"y":3.6},
      {"p":"i","g":2,"x":-2.8,"y":2.85},{"p":"i","g":2,"x":-1.43,"y":2.8},{"p":"i","g":2,"x":-0.12,"y":2.65},{"p":"i","g":2,"x":0.54,"y":2.51},{"p":"i","g":2,"x":0.8,"y":2.45},{"p":"i","g":2,"x":1.19,"y":2.6},{"p":"i","g":2,"x":2.8,"y":2.83},
      {"p":"i","g":3,"x":-2.8,"y":2.34},{"p":"i","g":3,"x":-1.43,"y":2.31},{"p":"i","g":3,"x":-0.12,"y":2.22},{"p":"i","g":3,"x":0.54,"y":2.13},{"p":"i","g":3,"x":0.84,"y":1.96},{"p":"i","g":3,"x":1.19,"y":1.96},{"p":"i","g":3,"x":2.8,"y":1.85},
      {"p":"i","g":4,"x":-2.8,"y":1.74},{"p":"i","g":4,"x":-1.43,"y":1.76},{"p":"i","g":4,"x":-0.12,"y":1.73},{"p":"i","g":4,"x":0.54,"y":1.67},{"p":"i","g":4,"x":0.74,"y":1.59},{"p":"i","g":4,"x":1.19,"y":1.5},{"p":"i","g":4,"x":2.8,"y":1.15},
      {"p":"i","g":5,"x":-2.8,"y":0.89},{"p":"i","g":5,"x":-1.43,"y":1.04},{"p":"i","g":5,"x":-0.12,"y":1.18},{"p":"i","g":5,"x":0.54,"y":1.21},{"p":"i","g":5,"x":0.74,"y":1.04},{"p":"i","g":5,"x":1.19,"y":0.92},{"p":"i","g":5,"x":1.85,"y":0.69},{"p":"i","g":5,"x":2.11,"y":0.375},
      {"p":"i","g":6,"x":0.05,"y":3.75},{"p":"i","g":6,"x":0.28,"y":2.19},{"p":"i","g":6,"x":0.47,"y":1.04},{"p":"i","g":6,"x":0.54,"y":0.3},{"p":"i","g":6,"x":0.72,"y":0.34},{"p":"i","g":6,"x":0.67,"y":1.04},{"p":"i","g":6,"x":0.57,"y":2.19},{"p":"i","g":6,"x":0.47,"y":3.75},
      {"p":"i","g":7,"x":0.67,"y":0.75},{"p":"i","g":7,"x":0.74,"y":0.5},{"p":"i","g":7,"x":0.62,"y":0.35},{"p":"i","g":7,"x":0.67,"y":0.75},
      {"p":"i","g":8,"x":2.8,"y":2.35},{"p":"i","g":8,"x":2.74,"y":2.15},{"p":"i","g":8,"x":2.8,"y":2.05},

      {"p":"j","g":1,"x":-2.8,"y":3.37},{"p":"j","g":1,"x":-0.95,"y":3.32},{"p":"j","g":1,"x":0.36,"y":3.23},{"p":"j","g":1,"x":0.62,"y":3.14},{"p":"j","g":1,"x":0.72,"y":3.11},{"p":"j","g":1,"x":1.01,"y":3.37},{"p":"j","g":1,"x":1.67,"y":3.52},{"p":"j","g":1,"x":2.8,"y":3.66},
      {"p":"j","g":2,"x":-2.8,"y":2.9},{"p":"j","g":2,"x":-0.95,"y":2.83},{"p":"j","g":2,"x":0.36,"y":2.77},{"p":"j","g":2,"x":0.62,"y":2.65},{"p":"j","g":2,"x":0.81,"y":2.57},{"p":"j","g":2,"x":1.34,"y":2.65},{"p":"j","g":2,"x":1.67,"y":2.77},{"p":"j","g":2,"x":2.8,"y":2.94},
      {"p":"j","g":3,"x":-2.8,"y":2.42},{"p":"j","g":3,"x":-0.95,"y":2.39},{"p":"j","g":3,"x":0.36,"y":2.34},{"p":"j","g":3,"x":0.88,"y":2.16},{"p":"j","g":3,"x":1.67,"y":2.16},{"p":"j","g":3,"x":2.8,"y":2.16},
      {"p":"j","g":4,"x":-2.8,"y":1.96},{"p":"j","g":4,"x":-0.95,"y":1.93},{"p":"j","g":4,"x":0.49,"y":1.87},{"p":"j","g":4,"x":1.01,"y":1.73},{"p":"j","g":4,"x":1.67,"y":1.7},{"p":"j","g":4,"x":2.8,"y":1.64},
      {"p":"j","g":5,"x":-2.8,"y":1.47},{"p":"j","g":5,"x":-0.95,"y":1.47},{"p":"j","g":5,"x":0.49,"y":1.41},{"p":"j","g":5,"x":1.01,"y":1.27},{"p":"j","g":5,"x":1.67,"y":1.21},{"p":"j","g":5,"x":2.8,"y":1.18},
      {"p":"j","g":6,"x":-2.8,"y":0.92},{"p":"j","g":6,"x":-0.95,"y":0.98},{"p":"j","g":6,"x":0.36,"y":1.1},{"p":"j","g":6,"x":0.62,"y":1.18},{"p":"j","g":6,"x":0.75,"y":1.1},{"p":"j","g":6,"x":1.67,"y":1.01},{"p":"j","g":6,"x":2.8,"y":1.01},
      {"p":"j","g":7,"x":-2.8,"y":0.36},{"p":"j","g":7,"x":-0.95,"y":0.4},{"p":"j","g":7,"x":0.36,"y":0.49},{"p":"j","g":7,"x":0.62,"y":0.69},{"p":"j","g":7,"x":1.01,"y":0.75},{"p":"j","g":7,"x":1.67,"y":0.75},{"p":"j","g":7,"x":2.8,"y":0.69},
      {"p":"j","g":8,"x":0.75,"y":0.52},{"p":"j","g":8,"x":1.67,"y":0.55},{"p":"j","g":8,"x":2.8,"y":0.52},
      {"p":"j","g":9,"x":-0.14,"y":3.75},{"p":"j","g":9,"x":-0.01,"y":2.19},{"p":"j","g":9,"x":0.16,"y":1.04},{"p":"j","g":9,"x":0.42,"y":0.35},{"p":"j","g":9,"x":0.52,"y":0.03},{"p":"j","g":9,"x":0.65,"y":0.35},{"p":"j","g":9,"x":0.78,"y":1.27},{"p":"j","g":9,"x":0.62,"y":1.61},{"p":"j","g":9,"x":0.49,"y":2.77},{"p":"j","g":9,"x":0.39,"y":3.75},

      {"p":"k","g":1,"x":-2.8,"y":3.43},{"p":"k","g":1,"x":-0.95,"y":3.37},{"p":"k","g":1,"x":0.23,"y":3.26},{"p":"k","g":1,"x":0.49,"y":3.2},{"p":"k","g":1,"x":0.65,"y":3.23},{"p":"k","g":1,"x":1.01,"y":3.43},{"p":"k","g":1,"x":1.67,"y":3.58},{"p":"k","g":1,"x":2.8,"y":3.7},
      {"p":"k","g":2,"x":-2.8,"y":2.98},{"p":"k","g":2,"x":-0.95,"y":2.91},{"p":"k","g":2,"x":0.36,"y":2.83},{"p":"k","g":2,"x":0.75,"y":2.71},{"p":"k","g":2,"x":1.67,"y":2.8},{"p":"k","g":2,"x":2.8,"y":2.97},
      {"p":"k","g":3,"x":-2.8,"y":2.54},{"p":"k","g":3,"x":-0.95,"y":2.51},{"p":"k","g":3,"x":0.36,"y":2.45},{"p":"k","g":3,"x":0.75,"y":2.28},{"p":"k","g":3,"x":1.67,"y":2.28},{"p":"k","g":3,"x":2.32,"y":2.34},{"p":"k","g":3,"x":2.8,"y":2.28},
      {"p":"k","g":4,"x":-2.8,"y":2.12},{"p":"k","g":4,"x":-0.95,"y":2.1},{"p":"k","g":4,"x":0.49,"y":2.05},{"p":"k","g":4,"x":0.88,"y":1.9},{"p":"k","g":4,"x":1.67,"y":1.87},{"p":"k","g":4,"x":2.8,"y":1.82},
      {"p":"k","g":5,"x":-2.8,"y":1.73},{"p":"k","g":5,"x":-0.95,"y":1.72},{"p":"k","g":5,"x":0.49,"y":1.67},{"p":"k","g":5,"x":0.88,"y":1.5},{"p":"k","g":5,"x":1.67,"y":1.44},{"p":"k","g":5,"x":2.8,"y":1.38},
      {"p":"k","g":6,"x":-2.8,"y":1.34},{"p":"k","g":6,"x":-0.95,"y":1.34},{"p":"k","g":6,"x":0.49,"y":1.3},{"p":"k","g":6,"x":0.88,"y":1.15},{"p":"k","g":6,"x":2.8,"y":1.07},
      {"p":"k","g":7,"x":-2.8,"y":0.99},{"p":"k","g":7,"x":-0.95,"y":1.01},{"p":"k","g":7,"x":0.49,"y":0.97},{"p":"k","g":7,"x":0.88,"y":0.87},{"p":"k","g":7,"x":2.8,"y":0.81},
      {"p":"k","g":8,"x":-2.8,"y":0.65},{"p":"k","g":8,"x":-0.95,"y":0.68},{"p":"k","g":8,"x":0.49,"y":0.69},{"p":"k","g":8,"x":0.88,"y":0.66},{"p":"k","g":8,"x":2.8,"y":0.66},
      {"p":"k","g":9,"x":-2.8,"y":0.35},{"p":"k","g":9,"x":-0.95,"y":0.39},{"p":"k","g":9,"x":0.49,"y":0.46},{"p":"k","g":9,"x":0.75,"y":0.52},{"p":"k","g":9,"x":2.8,"y":0.53},
      {"p":"k","g":10,"x":-2.8,"y":0.16},{"p":"k","g":10,"x":-0.95,"y":0.16},{"p":"k","g":10,"x":0.36,"y":0.2},{"p":"k","g":10,"x":0.55,"y":0.25},
      {"p":"k","g":11,"x":0.42,"y":3.75},{"p":"k","g":11,"x":0.52,"y":2.77},{"p":"k","g":11,"x":0.62,"y":1.9},{"p":"k","g":11,"x":0.78,"y":1.04},{"p":"k","g":11,"x":0.85,"y":0.72},{"p":"k","g":11,"x":0.91,"y":1.04},{"p":"k","g":11,"x":0.82,"y":1.9},{"p":"k","g":11,"x":0.68,"y":2.77},{"p":"k","g":11,"x":0.55,"y":3.75},
      {"p":"k","g":12,"x":0.3,"y":1.67},{"p":"k","g":12,"x":0.43,"y":1.2},{"p":"k","g":12,"x":0.46,"y":0.5},{"p":"k","g":12,"x":0.36,"y":0.06},{"p":"k","g":12,"x":0.2,"y":0.5},{"p":"k","g":12,"x":0.16,"y":1.2},{"p":"k","g":12,"x":0.3,"y":1.67},
      {"p":"k","g":13,"x":0.42,"y":3.75},{"p":"k","g":13,"x":0.49,"y":2.95},{"p":"k","g":13,"x":0.55,"y":3.75},

      {"p":"l","g":1,"x":-2.8,"y":3.4},{"p":"l","g":1,"x":-0.95,"y":3.34},{"p":"l","g":1,"x":0.03,"y":3.23},{"p":"l","g":1,"x":0.23,"y":3.14},{"p":"l","g":1,"x":0.62,"y":3.14},{"p":"l","g":1,"x":0.75,"y":3.26},{"p":"l","g":1,"x":1.67,"y":3.37},{"p":"l","g":1,"x":2.32,"y":3.49},{"p":"l","g":1,"x":2.7,"y":3.63},
      {"p":"l","g":2,"x":-2.8,"y":2.93},{"p":"l","g":2,"x":-0.95,"y":2.88},{"p":"l","g":2,"x":0.03,"y":2.77},{"p":"l","g":2,"x":0.49,"y":2.65},{"p":"l","g":2,"x":0.75,"y":2.62},{"p":"l","g":2,"x":1.67,"y":2.71},{"p":"l","g":2,"x":2.7,"y":2.83},
      {"p":"l","g":3,"x":-2.8,"y":2.45},{"p":"l","g":3,"x":-0.95,"y":2.42},{"p":"l","g":3,"x":0.03,"y":2.28},{"p":"l","g":3,"x":0.49,"y":2.19},{"p":"l","g":3,"x":0.75,"y":2.13},{"p":"l","g":3,"x":1.67,"y":2.08},{"p":"l","g":3,"x":2.7,"y":1.99},
      {"p":"l","g":4,"x":-2.8,"y":1.98},{"p":"l","g":4,"x":-0.95,"y":1.98},{"p":"l","g":4,"x":0.03,"y":1.87},{"p":"l","g":4,"x":0.49,"y":1.79},{"p":"l","g":4,"x":1.01,"y":1.67},{"p":"l","g":4,"x":2.7,"y":1.5},
      {"p":"l","g":5,"x":-2.8,"y":1.5},{"p":"l","g":5,"x":-0.95,"y":1.53},{"p":"l","g":5,"x":0.03,"y":1.47},{"p":"l","g":5,"x":0.49,"y":1.38},{"p":"l","g":5,"x":1.01,"y":1.21},{"p":"l","g":5,"x":2.7,"y":1.01},
      {"p":"l","g":6,"x":-2.8,"y":1.0},{"p":"l","g":6,"x":-0.95,"y":1.04},{"p":"l","g":6,"x":0.03,"y":1.18},{"p":"l","g":6,"x":0.49,"y":1.1},{"p":"l","g":6,"x":1.01,"y":0.81},{"p":"l","g":6,"x":2.7,"y":0.52},
      {"p":"l","g":7,"x":-2.8,"y":0.43},{"p":"l","g":7,"x":-0.95,"y":0.46},{"p":"l","g":7,"x":0.03,"y":0.49},{"p":"l","g":7,"x":0.36,"y":0.39},
      {"p":"l","g":8,"x":0.19,"y":3.75},{"p":"l","g":8,"x":0.36,"y":2.77},{"p":"l","g":8,"x":0.49,"y":2.6},{"p":"l","g":8,"x":0.42,"y":3.34},{"p":"l","g":8,"x":0.29,"y":3.75},
      {"p":"l","g":9,"x":0.32,"y":3.75},{"p":"l","g":9,"x":0.55,"y":2.45},{"p":"l","g":9,"x":0.62,"y":1.59},{"p":"l","g":9,"x":0.68,"y":2.45},{"p":"l","g":9,"x":0.45,"y":3.75},
      {"p":"l","g":10,"x":0.62,"y":3.75},{"p":"l","g":10,"x":0.72,"y":3.0},{"p":"l","g":10,"x":0.75,"y":2.77},{"p":"l","g":10,"x":0.7,"y":3.4},{"p":"l","g":10,"x":0.68,"y":3.75},
      {"p":"l","g":11,"x":0.75,"y":2.81},{"p":"l","g":11,"x":0.88,"y":1.87},{"p":"l","g":11,"x":1.11,"y":1.35},{"p":"l","g":11,"x":0.95,"y":1.27},{"p":"l","g":11,"x":0.82,"y":1.59},{"p":"l","g":11,"x":0.75,"y":2.4},{"p":"l","g":11,"x":0.75,"y":2.81},
      {"p":"l","g":12,"x":0.03,"y":0.87},{"p":"l","g":12,"x":0.13,"y":0.65},{"p":"l","g":12,"x":0.05,"y":0.4},{"p":"l","g":12,"x":-0.04,"y":0.65},{"p":"l","g":12,"x":0.03,"y":0.87},
      {"p":"l","g":13,"x":0.23,"y":0.0},{"p":"l","g":13,"x":0.29,"y":0.25},{"p":"l","g":13,"x":0.49,"y":0.37},
      {"p":"l","g":14,"x":2.13,"y":2.74},{"p":"l","g":14,"x":2.32,"y":2.0},{"p":"l","g":14,"x":2.52,"y":1.65},{"p":"l","g":14,"x":2.7,"y":1.8},{"p":"l","g":14,"x":2.7,"y":2.6},{"p":"l","g":14,"x":2.32,"y":2.77},{"p":"l","g":14,"x":2.13,"y":2.74},
      {"p":"l","g":15,"x":2.35,"y":3.75},{"p":"l","g":15,"x":2.45,"y":3.55},{"p":"l","g":15,"x":2.42,"y":3.4},{"p":"l","g":15,"x":2.35,"y":3.55},{"p":"l","g":15,"x":2.35,"y":3.75}
    ]
  },
  "concat": [
    {"width": 285, "height": 237, "layer": [
      {"data": {"name": "fills"}, "transform": [{"filter": "datum.p === 'a'"}], "mark": {"type": "line", "interpolate": "catmull-rom", "fill": "#dcdcdc", "stroke": "#a0a0a0", "strokeWidth": 1, "strokeDash": [1, 1.5], "clip": true},
       "encoding": {"x": {"field": "x", "type": "quantitative", "scale": {"domain": [-2.8, 2.8], "nice": false, "zero": false}, "axis": {"values": [-2, 0, 2], "labels": false, "title": null}},
                    "y": {"field": "y", "type": "quantitative", "scale": {"domain": [0, 4.1], "nice": false}, "axis": {"values": [0, 2, 4], "labelPadding": 9, "labelExpr": "'' + datum.value", "title": "z/H", "titlePadding": 6}},
                    "detail": {"field": "g"}, "order": {"value": null}}},
      {"data": {"name": "lines"}, "transform": [{"filter": "datum.p === 'a'"}], "mark": {"type": "line", "interpolate": "catmull-rom", "color": "black", "strokeWidth": 1.1, "clip": true},
       "encoding": {"x": {"field": "x", "type": "quantitative", "scale": {"domain": [-2.8, 2.8], "nice": false, "zero": false}}, "y": {"field": "y", "type": "quantitative", "scale": {"domain": [0, 4.1], "nice": false}}, "detail": {"field": "g"}, "order": {"value": null}}},
      {"data": {"name": "titles"}, "transform": [{"filter": "datum.p === 'a'"}], "mark": {"type": "rect", "color": "white"},
       "encoding": {"x": {"datum": -2.83, "type": "quantitative", "scale": {"domain": [-2.8, 2.8], "nice": false, "zero": false}}, "x2": {"datum": 1.5}, "y": {"datum": 3.75, "type": "quantitative", "scale": {"domain": [0, 4.1], "nice": false}}, "y2": {"datum": 4.2}}},
      {"data": {"name": "titles"}, "transform": [{"filter": "datum.p === 'a'"}], "mark": {"type": "text", "align": "left", "baseline": "middle", "font": "Liberation Serif", "fontSize": 20, "color": "black", "dx": 1},
       "encoding": {"text": {"field": "t"}, "x": {"datum": -2.8, "type": "quantitative", "scale": {"domain": [-2.8, 2.8], "nice": false, "zero": false}}, "y": {"datum": 3.93, "type": "quantitative", "scale": {"domain": [0, 4.1], "nice": false}}}}
    ]},
    {"width": 285, "height": 237, "layer": [
      {"data": {"name": "fills"}, "transform": [{"filter": "datum.p === 'b'"}], "mark": {"type": "line", "interpolate": "catmull-rom", "fill": "#dcdcdc", "stroke": "#a0a0a0", "strokeWidth": 1, "strokeDash": [1, 1.5], "clip": true},
       "encoding": {"x": {"field": "x", "type": "quantitative", "scale": {"domain": [-2.8, 2.8], "nice": false, "zero": false}, "axis": {"values": [-2, 0, 2], "labels": false, "title": null}},
                    "y": {"field": "y", "type": "quantitative", "scale": {"domain": [0, 4.1], "nice": false}, "axis": {"values": [0, 2, 4], "labels": false, "title": null}},
                    "detail": {"field": "g"}, "order": {"value": null}}},
      {"data": {"name": "lines"}, "transform": [{"filter": "datum.p === 'b'"}], "mark": {"type": "line", "interpolate": "catmull-rom", "color": "black", "strokeWidth": 1.1, "clip": true},
       "encoding": {"x": {"field": "x", "type": "quantitative", "scale": {"domain": [-2.8, 2.8], "nice": false, "zero": false}}, "y": {"field": "y", "type": "quantitative", "scale": {"domain": [0, 4.1], "nice": false}}, "detail": {"field": "g"}, "order": {"value": null}}},
      {"data": {"name": "titles"}, "transform": [{"filter": "datum.p === 'b'"}], "mark": {"type": "rect", "color": "white"},
       "encoding": {"x": {"datum": -2.83, "type": "quantitative", "scale": {"domain": [-2.8, 2.8], "nice": false, "zero": false}}, "x2": {"datum": 1.74}, "y": {"datum": 3.75, "type": "quantitative", "scale": {"domain": [0, 4.1], "nice": false}}, "y2": {"datum": 4.2}}},
      {"data": {"name": "titles"}, "transform": [{"filter": "datum.p === 'b'"}], "mark": {"type": "text", "align": "left", "baseline": "middle", "font": "Liberation Serif", "fontSize": 20, "color": "black", "dx": 1},
       "encoding": {"text": {"field": "t"}, "x": {"datum": -2.8, "type": "quantitative", "scale": {"domain": [-2.8, 2.8], "nice": false, "zero": false}}, "y": {"datum": 3.93, "type": "quantitative", "scale": {"domain": [0, 4.1], "nice": false}}}}
    ]},
    {"width": 285, "height": 237, "layer": [
      {"data": {"name": "fills"}, "transform": [{"filter": "datum.p === 'c'"}], "mark": {"type": "line", "interpolate": "catmull-rom", "fill": "#dcdcdc", "stroke": "#a0a0a0", "strokeWidth": 1, "strokeDash": [1, 1.5], "clip": true},
       "encoding": {"x": {"field": "x", "type": "quantitative", "scale": {"domain": [-2.8, 2.8], "nice": false, "zero": false}, "axis": {"values": [-2, 0, 2], "labels": false, "title": null}},
                    "y": {"field": "y", "type": "quantitative", "scale": {"domain": [0, 4.1], "nice": false}, "axis": {"values": [0, 2, 4], "labels": false, "title": null}},
                    "detail": {"field": "g"}, "order": {"value": null}}},
      {"data": {"name": "lines"}, "transform": [{"filter": "datum.p === 'c'"}], "mark": {"type": "line", "interpolate": "catmull-rom", "color": "black", "strokeWidth": 1.1, "clip": true},
       "encoding": {"x": {"field": "x", "type": "quantitative", "scale": {"domain": [-2.8, 2.8], "nice": false, "zero": false}}, "y": {"field": "y", "type": "quantitative", "scale": {"domain": [0, 4.1], "nice": false}}, "detail": {"field": "g"}, "order": {"value": null}}},
      {"data": {"name": "titles"}, "transform": [{"filter": "datum.p === 'c'"}], "mark": {"type": "rect", "color": "white"},
       "encoding": {"x": {"datum": -2.83, "type": "quantitative", "scale": {"domain": [-2.8, 2.8], "nice": false, "zero": false}}, "x2": {"datum": 1.5}, "y": {"datum": 3.75, "type": "quantitative", "scale": {"domain": [0, 4.1], "nice": false}}, "y2": {"datum": 4.2}}},
      {"data": {"name": "titles"}, "transform": [{"filter": "datum.p === 'c'"}], "mark": {"type": "text", "align": "left", "baseline": "middle", "font": "Liberation Serif", "fontSize": 20, "color": "black", "dx": 1},
       "encoding": {"text": {"field": "t"}, "x": {"datum": -2.8, "type": "quantitative", "scale": {"domain": [-2.8, 2.8], "nice": false, "zero": false}}, "y": {"datum": 3.93, "type": "quantitative", "scale": {"domain": [0, 4.1], "nice": false}}}}
    ]},
    {"width": 277, "height": 237, "layer": [
      {"data": {"name": "fills"}, "transform": [{"filter": "datum.p === 'd'"}], "mark": {"type": "line", "interpolate": "catmull-rom", "fill": "#dcdcdc", "stroke": "#a0a0a0", "strokeWidth": 1, "strokeDash": [1, 1.5], "clip": true},
       "encoding": {"x": {"field": "x", "type": "quantitative", "scale": {"domain": [-2.8, 2.64], "nice": false, "zero": false}, "axis": {"values": [-2, 0, 2], "labels": false, "title": null}},
                    "y": {"field": "y", "type": "quantitative", "scale": {"domain": [0, 4.1], "nice": false}, "axis": {"values": [0, 2, 4], "labels": false, "title": null}},
                    "detail": {"field": "g"}, "order": {"value": null}}},
      {"data": {"name": "lines"}, "transform": [{"filter": "datum.p === 'd'"}], "mark": {"type": "line", "interpolate": "catmull-rom", "color": "black", "strokeWidth": 1.1, "clip": true},
       "encoding": {"x": {"field": "x", "type": "quantitative", "scale": {"domain": [-2.8, 2.64], "nice": false, "zero": false}}, "y": {"field": "y", "type": "quantitative", "scale": {"domain": [0, 4.1], "nice": false}}, "detail": {"field": "g"}, "order": {"value": null}}},
      {"data": {"name": "titles"}, "transform": [{"filter": "datum.p === 'd'"}], "mark": {"type": "rect", "color": "white"},
       "encoding": {"x": {"datum": -2.83, "type": "quantitative", "scale": {"domain": [-2.8, 2.64], "nice": false, "zero": false}}, "x2": {"datum": 1.95}, "y": {"datum": 3.75, "type": "quantitative", "scale": {"domain": [0, 4.1], "nice": false}}, "y2": {"datum": 4.2}}},
      {"data": {"name": "titles"}, "transform": [{"filter": "datum.p === 'd'"}], "mark": {"type": "text", "align": "left", "baseline": "middle", "font": "Liberation Serif", "fontSize": 20, "color": "black", "dx": 1},
       "encoding": {"text": {"field": "t"}, "x": {"datum": -2.8, "type": "quantitative", "scale": {"domain": [-2.8, 2.64], "nice": false, "zero": false}}, "y": {"datum": 3.93, "type": "quantitative", "scale": {"domain": [0, 4.1], "nice": false}}}}
    ]},
    {"width": 285, "height": 237, "layer": [
      {"data": {"name": "fills"}, "transform": [{"filter": "datum.p === 'e'"}], "mark": {"type": "line", "interpolate": "catmull-rom", "fill": "#dcdcdc", "stroke": "#a0a0a0", "strokeWidth": 1, "strokeDash": [1, 1.5], "clip": true},
       "encoding": {"x": {"field": "x", "type": "quantitative", "scale": {"domain": [-2.8, 2.8], "nice": false, "zero": false}, "axis": {"values": [-2, 0, 2], "labels": false, "title": null}},
                    "y": {"field": "y", "type": "quantitative", "scale": {"domain": [0, 4.1], "nice": false}, "axis": {"values": [0, 2, 4], "labelPadding": 9, "labelExpr": "'' + datum.value", "title": "z/H", "titlePadding": 6}},
                    "detail": {"field": "g"}, "order": {"value": null}}},
      {"data": {"name": "lines"}, "transform": [{"filter": "datum.p === 'e'"}], "mark": {"type": "line", "interpolate": "catmull-rom", "color": "black", "strokeWidth": 1.1, "clip": true},
       "encoding": {"x": {"field": "x", "type": "quantitative", "scale": {"domain": [-2.8, 2.8], "nice": false, "zero": false}}, "y": {"field": "y", "type": "quantitative", "scale": {"domain": [0, 4.1], "nice": false}}, "detail": {"field": "g"}, "order": {"value": null}}},
      {"data": {"name": "topo"}, "transform": [{"filter": "datum.p === 'e'"}], "mark": {"type": "line", "color": "black", "strokeWidth": 2.6, "clip": true},
       "encoding": {"x": {"field": "x", "type": "quantitative", "scale": {"domain": [-2.8, 2.8], "nice": false, "zero": false}}, "y": {"field": "y", "type": "quantitative", "scale": {"domain": [0, 4.1], "nice": false}}, "order": {"value": null}}},
      {"data": {"name": "titles"}, "transform": [{"filter": "datum.p === 'e'"}], "mark": {"type": "rect", "color": "white"},
       "encoding": {"x": {"datum": -2.83, "type": "quantitative", "scale": {"domain": [-2.8, 2.8], "nice": false, "zero": false}}, "x2": {"datum": 2.18}, "y": {"datum": 3.74, "type": "quantitative", "scale": {"domain": [0, 4.1], "nice": false}}, "y2": {"datum": 4.2}}},
      {"data": {"name": "titles"}, "transform": [{"filter": "datum.p === 'e'"}], "mark": {"type": "text", "align": "left", "baseline": "middle", "font": "Liberation Serif", "fontSize": 20, "color": "black", "dx": 1},
       "encoding": {"text": {"field": "t"}, "x": {"datum": -2.8, "type": "quantitative", "scale": {"domain": [-2.8, 2.8], "nice": false, "zero": false}}, "y": {"datum": 3.93, "type": "quantitative", "scale": {"domain": [0, 4.1], "nice": false}}}}
    ]},
    {"width": 285, "height": 237, "layer": [
      {"data": {"name": "fills"}, "transform": [{"filter": "datum.p === 'f'"}], "mark": {"type": "line", "interpolate": "catmull-rom", "fill": "#dcdcdc", "stroke": "#a0a0a0", "strokeWidth": 1, "strokeDash": [1, 1.5], "clip": true},
       "encoding": {"x": {"field": "x", "type": "quantitative", "scale": {"domain": [-2.8, 2.8], "nice": false, "zero": false}, "axis": {"values": [-2, 0, 2], "labels": false, "title": null}},
                    "y": {"field": "y", "type": "quantitative", "scale": {"domain": [0, 4.1], "nice": false}, "axis": {"values": [0, 2, 4], "labels": false, "title": null}},
                    "detail": {"field": "g"}, "order": {"value": null}}},
      {"data": {"name": "lines"}, "transform": [{"filter": "datum.p === 'f'"}], "mark": {"type": "line", "interpolate": "catmull-rom", "color": "black", "strokeWidth": 1.1, "clip": true},
       "encoding": {"x": {"field": "x", "type": "quantitative", "scale": {"domain": [-2.8, 2.8], "nice": false, "zero": false}}, "y": {"field": "y", "type": "quantitative", "scale": {"domain": [0, 4.1], "nice": false}}, "detail": {"field": "g"}, "order": {"value": null}}},
      {"data": {"name": "topo"}, "transform": [{"filter": "datum.p === 'f'"}], "mark": {"type": "line", "color": "black", "strokeWidth": 2.6, "clip": true},
       "encoding": {"x": {"field": "x", "type": "quantitative", "scale": {"domain": [-2.8, 2.8], "nice": false, "zero": false}}, "y": {"field": "y", "type": "quantitative", "scale": {"domain": [0, 4.1], "nice": false}}, "order": {"value": null}}},
      {"data": {"name": "titles"}, "transform": [{"filter": "datum.p === 'f'"}], "mark": {"type": "rect", "color": "white"},
       "encoding": {"x": {"datum": -2.83, "type": "quantitative", "scale": {"domain": [-2.8, 2.8], "nice": false, "zero": false}}, "x2": {"datum": 2.54}, "y": {"datum": 3.74, "type": "quantitative", "scale": {"domain": [0, 4.1], "nice": false}}, "y2": {"datum": 4.2}}},
      {"data": {"name": "titles"}, "transform": [{"filter": "datum.p === 'f'"}], "mark": {"type": "text", "align": "left", "baseline": "middle", "font": "Liberation Serif", "fontSize": 20, "color": "black", "dx": 1},
       "encoding": {"text": {"field": "t"}, "x": {"datum": -2.8, "type": "quantitative", "scale": {"domain": [-2.8, 2.8], "nice": false, "zero": false}}, "y": {"datum": 3.93, "type": "quantitative", "scale": {"domain": [0, 4.1], "nice": false}}}}
    ]},
    {"width": 285, "height": 237, "layer": [
      {"data": {"name": "fills"}, "transform": [{"filter": "datum.p === 'g'"}], "mark": {"type": "line", "interpolate": "catmull-rom", "fill": "#dcdcdc", "stroke": "#a0a0a0", "strokeWidth": 1, "strokeDash": [1, 1.5], "clip": true},
       "encoding": {"x": {"field": "x", "type": "quantitative", "scale": {"domain": [-2.8, 2.8], "nice": false, "zero": false}, "axis": {"values": [-2, 0, 2], "labels": false, "title": null}},
                    "y": {"field": "y", "type": "quantitative", "scale": {"domain": [0, 4.1], "nice": false}, "axis": {"values": [0, 2, 4], "labels": false, "title": null}},
                    "detail": {"field": "g"}, "order": {"value": null}}},
      {"data": {"name": "lines"}, "transform": [{"filter": "datum.p === 'g'"}], "mark": {"type": "line", "interpolate": "catmull-rom", "color": "black", "strokeWidth": 1.1, "clip": true},
       "encoding": {"x": {"field": "x", "type": "quantitative", "scale": {"domain": [-2.8, 2.8], "nice": false, "zero": false}}, "y": {"field": "y", "type": "quantitative", "scale": {"domain": [0, 4.1], "nice": false}}, "detail": {"field": "g"}, "order": {"value": null}}},
      {"data": {"name": "topo"}, "transform": [{"filter": "datum.p === 'g'"}], "mark": {"type": "line", "color": "black", "strokeWidth": 2.6, "clip": true},
       "encoding": {"x": {"field": "x", "type": "quantitative", "scale": {"domain": [-2.8, 2.8], "nice": false, "zero": false}}, "y": {"field": "y", "type": "quantitative", "scale": {"domain": [0, 4.1], "nice": false}}, "order": {"value": null}}},
      {"data": {"name": "titles"}, "transform": [{"filter": "datum.p === 'g'"}], "mark": {"type": "rect", "color": "white"},
       "encoding": {"x": {"datum": -2.83, "type": "quantitative", "scale": {"domain": [-2.8, 2.8], "nice": false, "zero": false}}, "x2": {"datum": 2.33}, "y": {"datum": 3.74, "type": "quantitative", "scale": {"domain": [0, 4.1], "nice": false}}, "y2": {"datum": 4.2}}},
      {"data": {"name": "titles"}, "transform": [{"filter": "datum.p === 'g'"}], "mark": {"type": "text", "align": "left", "baseline": "middle", "font": "Liberation Serif", "fontSize": 20, "color": "black", "dx": 1},
       "encoding": {"text": {"field": "t"}, "x": {"datum": -2.8, "type": "quantitative", "scale": {"domain": [-2.8, 2.8], "nice": false, "zero": false}}, "y": {"datum": 3.93, "type": "quantitative", "scale": {"domain": [0, 4.1], "nice": false}}}}
    ]},
    {"width": 277, "height": 237, "layer": [
      {"data": {"name": "fills"}, "transform": [{"filter": "datum.p === 'h'"}], "mark": {"type": "line", "interpolate": "catmull-rom", "fill": "#dcdcdc", "stroke": "#a0a0a0", "strokeWidth": 1, "strokeDash": [1, 1.5], "clip": true},
       "encoding": {"x": {"field": "x", "type": "quantitative", "scale": {"domain": [-2.8, 2.64], "nice": false, "zero": false}, "axis": {"values": [-2, 0, 2], "labels": false, "title": null}},
                    "y": {"field": "y", "type": "quantitative", "scale": {"domain": [0, 4.1], "nice": false}, "axis": {"values": [0, 2, 4], "labels": false, "title": null}},
                    "detail": {"field": "g"}, "order": {"value": null}}},
      {"data": {"name": "lines"}, "transform": [{"filter": "datum.p === 'h'"}], "mark": {"type": "line", "interpolate": "catmull-rom", "color": "black", "strokeWidth": 1.1, "clip": true},
       "encoding": {"x": {"field": "x", "type": "quantitative", "scale": {"domain": [-2.8, 2.64], "nice": false, "zero": false}}, "y": {"field": "y", "type": "quantitative", "scale": {"domain": [0, 4.1], "nice": false}}, "detail": {"field": "g"}, "order": {"value": null}}},
      {"data": {"name": "topo"}, "transform": [{"filter": "datum.p === 'h'"}], "mark": {"type": "line", "color": "black", "strokeWidth": 2.6, "clip": true},
       "encoding": {"x": {"field": "x", "type": "quantitative", "scale": {"domain": [-2.8, 2.64], "nice": false, "zero": false}}, "y": {"field": "y", "type": "quantitative", "scale": {"domain": [0, 4.1], "nice": false}}, "order": {"value": null}}},
      {"data": {"name": "titles"}, "transform": [{"filter": "datum.p === 'h'"}], "mark": {"type": "rect", "color": "white"},
       "encoding": {"x": {"datum": -2.83, "type": "quantitative", "scale": {"domain": [-2.8, 2.64], "nice": false, "zero": false}}, "x2": {"datum": 2.64}, "y": {"datum": 3.74, "type": "quantitative", "scale": {"domain": [0, 4.1], "nice": false}}, "y2": {"datum": 4.2}}},
      {"data": {"name": "titles"}, "transform": [{"filter": "datum.p === 'h'"}], "mark": {"type": "text", "align": "left", "baseline": "middle", "font": "Liberation Serif", "fontSize": 20, "color": "black", "dx": 1},
       "encoding": {"text": {"field": "t"}, "x": {"datum": -2.8, "type": "quantitative", "scale": {"domain": [-2.8, 2.64], "nice": false, "zero": false}}, "y": {"datum": 3.93, "type": "quantitative", "scale": {"domain": [0, 4.1], "nice": false}}}}
    ]},
    {"width": 285, "height": 237, "layer": [
      {"data": {"name": "fills"}, "transform": [{"filter": "datum.p === 'i'"}], "mark": {"type": "line", "interpolate": "catmull-rom", "fill": "#dcdcdc", "stroke": "#a0a0a0", "strokeWidth": 1, "strokeDash": [1, 1.5], "clip": true},
       "encoding": {"x": {"field": "x", "type": "quantitative", "scale": {"domain": [-2.8, 2.8], "nice": false, "zero": false}, "axis": {"values": [-2, 0, 2], "labelPadding": 10, "labelExpr": "datum.value < 0 ? '-' + (-datum.value) : '' + datum.value", "title": "x\u2009ω\u2009/\u2009N\u2009H", "titleFontSize": 28, "titlePadding": 4}},
                    "y": {"field": "y", "type": "quantitative", "scale": {"domain": [0, 4.1], "nice": false}, "axis": {"values": [0, 2, 4], "labelPadding": 9, "labelExpr": "'' + datum.value", "title": "z/H", "titlePadding": 6}},
                    "detail": {"field": "g"}, "order": {"value": null}}},
      {"data": {"name": "lines"}, "transform": [{"filter": "datum.p === 'i'"}], "mark": {"type": "line", "interpolate": "catmull-rom", "color": "black", "strokeWidth": 1.1, "clip": true},
       "encoding": {"x": {"field": "x", "type": "quantitative", "scale": {"domain": [-2.8, 2.8], "nice": false, "zero": false}}, "y": {"field": "y", "type": "quantitative", "scale": {"domain": [0, 4.1], "nice": false}}, "detail": {"field": "g"}, "order": {"value": null}}},
      {"data": {"name": "topo"}, "transform": [{"filter": "datum.p === 'i'"}], "mark": {"type": "line", "color": "black", "strokeWidth": 2.6, "clip": true},
       "encoding": {"x": {"field": "x", "type": "quantitative", "scale": {"domain": [-2.8, 2.8], "nice": false, "zero": false}}, "y": {"field": "y", "type": "quantitative", "scale": {"domain": [0, 4.1], "nice": false}}, "order": {"value": null}}},
      {"data": {"name": "titles"}, "transform": [{"filter": "datum.p === 'i'"}], "mark": {"type": "rect", "color": "white"},
       "encoding": {"x": {"datum": -2.83, "type": "quantitative", "scale": {"domain": [-2.8, 2.8], "nice": false, "zero": false}}, "x2": {"datum": 1.95}, "y": {"datum": 3.75, "type": "quantitative", "scale": {"domain": [0, 4.1], "nice": false}}, "y2": {"datum": 4.2}}},
      {"data": {"name": "titles"}, "transform": [{"filter": "datum.p === 'i'"}], "mark": {"type": "text", "align": "left", "baseline": "middle", "font": "Liberation Serif", "fontSize": 20, "color": "black", "dx": 1},
       "encoding": {"text": {"field": "t"}, "x": {"datum": -2.8, "type": "quantitative", "scale": {"domain": [-2.8, 2.8], "nice": false, "zero": false}}, "y": {"datum": 3.93, "type": "quantitative", "scale": {"domain": [0, 4.1], "nice": false}}}}
    ]},
    {"width": 285, "height": 237, "layer": [
      {"data": {"name": "fills"}, "transform": [{"filter": "datum.p === 'j'"}], "mark": {"type": "line", "interpolate": "catmull-rom", "fill": "#dcdcdc", "stroke": "#a0a0a0", "strokeWidth": 1, "strokeDash": [1, 1.5], "clip": true},
       "encoding": {"x": {"field": "x", "type": "quantitative", "scale": {"domain": [-2.8, 2.8], "nice": false, "zero": false}, "axis": {"values": [-2, 0, 2], "labelPadding": 10, "labelExpr": "datum.value < 0 ? '-' + (-datum.value) : '' + datum.value", "title": "x\u2009ω\u2009/\u2009N\u2009H", "titleFontSize": 28, "titlePadding": 4}},
                    "y": {"field": "y", "type": "quantitative", "scale": {"domain": [0, 4.1], "nice": false}, "axis": {"values": [0, 2, 4], "labels": false, "title": null}},
                    "detail": {"field": "g"}, "order": {"value": null}}},
      {"data": {"name": "lines"}, "transform": [{"filter": "datum.p === 'j'"}], "mark": {"type": "line", "interpolate": "catmull-rom", "color": "black", "strokeWidth": 1.1, "clip": true},
       "encoding": {"x": {"field": "x", "type": "quantitative", "scale": {"domain": [-2.8, 2.8], "nice": false, "zero": false}}, "y": {"field": "y", "type": "quantitative", "scale": {"domain": [0, 4.1], "nice": false}}, "detail": {"field": "g"}, "order": {"value": null}}},
      {"data": {"name": "topo"}, "transform": [{"filter": "datum.p === 'j'"}], "mark": {"type": "line", "color": "black", "strokeWidth": 2.6, "clip": true},
       "encoding": {"x": {"field": "x", "type": "quantitative", "scale": {"domain": [-2.8, 2.8], "nice": false, "zero": false}}, "y": {"field": "y", "type": "quantitative", "scale": {"domain": [0, 4.1], "nice": false}}, "order": {"value": null}}},
      {"data": {"name": "titles"}, "transform": [{"filter": "datum.p === 'j'"}], "mark": {"type": "rect", "color": "white"},
       "encoding": {"x": {"datum": -2.83, "type": "quantitative", "scale": {"domain": [-2.8, 2.8], "nice": false, "zero": false}}, "x2": {"datum": 2.35}, "y": {"datum": 3.75, "type": "quantitative", "scale": {"domain": [0, 4.1], "nice": false}}, "y2": {"datum": 4.2}}},
      {"data": {"name": "titles"}, "transform": [{"filter": "datum.p === 'j'"}], "mark": {"type": "text", "align": "left", "baseline": "middle", "font": "Liberation Serif", "fontSize": 20, "color": "black", "dx": 1},
       "encoding": {"text": {"field": "t"}, "x": {"datum": -2.8, "type": "quantitative", "scale": {"domain": [-2.8, 2.8], "nice": false, "zero": false}}, "y": {"datum": 3.93, "type": "quantitative", "scale": {"domain": [0, 4.1], "nice": false}}}}
    ]},
    {"width": 285, "height": 237, "layer": [
      {"data": {"name": "fills"}, "transform": [{"filter": "datum.p === 'k'"}], "mark": {"type": "line", "interpolate": "catmull-rom", "fill": "#dcdcdc", "stroke": "#a0a0a0", "strokeWidth": 1, "strokeDash": [1, 1.5], "clip": true},
       "encoding": {"x": {"field": "x", "type": "quantitative", "scale": {"domain": [-2.8, 2.8], "nice": false, "zero": false}, "axis": {"values": [-2, 0, 2], "labelPadding": 10, "labelExpr": "datum.value < 0 ? '-' + (-datum.value) : '' + datum.value", "title": "x\u2009ω\u2009/\u2009N\u2009H", "titleFontSize": 28, "titlePadding": 4}},
                    "y": {"field": "y", "type": "quantitative", "scale": {"domain": [0, 4.1], "nice": false}, "axis": {"values": [0, 2, 4], "labels": false, "title": null}},
                    "detail": {"field": "g"}, "order": {"value": null}}},
      {"data": {"name": "lines"}, "transform": [{"filter": "datum.p === 'k'"}], "mark": {"type": "line", "interpolate": "catmull-rom", "color": "black", "strokeWidth": 1.1, "clip": true},
       "encoding": {"x": {"field": "x", "type": "quantitative", "scale": {"domain": [-2.8, 2.8], "nice": false, "zero": false}}, "y": {"field": "y", "type": "quantitative", "scale": {"domain": [0, 4.1], "nice": false}}, "detail": {"field": "g"}, "order": {"value": null}}},
      {"data": {"name": "topo"}, "transform": [{"filter": "datum.p === 'k'"}], "mark": {"type": "line", "color": "black", "strokeWidth": 2.6, "clip": true},
       "encoding": {"x": {"field": "x", "type": "quantitative", "scale": {"domain": [-2.8, 2.8], "nice": false, "zero": false}}, "y": {"field": "y", "type": "quantitative", "scale": {"domain": [0, 4.1], "nice": false}}, "order": {"value": null}}},
      {"data": {"name": "titles"}, "transform": [{"filter": "datum.p === 'k'"}], "mark": {"type": "rect", "color": "white"},
       "encoding": {"x": {"datum": -2.83, "type": "quantitative", "scale": {"domain": [-2.8, 2.8], "nice": false, "zero": false}}, "x2": {"datum": 2.15}, "y": {"datum": 3.75, "type": "quantitative", "scale": {"domain": [0, 4.1], "nice": false}}, "y2": {"datum": 4.2}}},
      {"data": {"name": "titles"}, "transform": [{"filter": "datum.p === 'k'"}], "mark": {"type": "text", "align": "left", "baseline": "middle", "font": "Liberation Serif", "fontSize": 20, "color": "black", "dx": 1},
       "encoding": {"text": {"field": "t"}, "x": {"datum": -2.8, "type": "quantitative", "scale": {"domain": [-2.8, 2.8], "nice": false, "zero": false}}, "y": {"datum": 3.93, "type": "quantitative", "scale": {"domain": [0, 4.1], "nice": false}}}}
    ]},
    {"width": 277, "height": 237, "layer": [
      {"data": {"name": "fills"}, "transform": [{"filter": "datum.p === 'l'"}], "mark": {"type": "line", "interpolate": "catmull-rom", "fill": "#dcdcdc", "stroke": "#a0a0a0", "strokeWidth": 1, "strokeDash": [1, 1.5], "clip": true},
       "encoding": {"x": {"field": "x", "type": "quantitative", "scale": {"domain": [-2.8, 2.64], "nice": false, "zero": false}, "axis": {"values": [-2, 0, 2], "labelPadding": 10, "labelExpr": "datum.value < 0 ? '-' + (-datum.value) : '' + datum.value", "title": "x\u2009ω\u2009/\u2009N\u2009H", "titleFontSize": 28, "titlePadding": 4}},
                    "y": {"field": "y", "type": "quantitative", "scale": {"domain": [0, 4.1], "nice": false}, "axis": {"values": [0, 2, 4], "labels": false, "title": null}},
                    "detail": {"field": "g"}, "order": {"value": null}}},
      {"data": {"name": "lines"}, "transform": [{"filter": "datum.p === 'l'"}], "mark": {"type": "line", "interpolate": "catmull-rom", "color": "black", "strokeWidth": 1.1, "clip": true},
       "encoding": {"x": {"field": "x", "type": "quantitative", "scale": {"domain": [-2.8, 2.64], "nice": false, "zero": false}}, "y": {"field": "y", "type": "quantitative", "scale": {"domain": [0, 4.1], "nice": false}}, "detail": {"field": "g"}, "order": {"value": null}}},
      {"data": {"name": "topo"}, "transform": [{"filter": "datum.p === 'l'"}], "mark": {"type": "line", "color": "black", "strokeWidth": 2.6, "clip": true},
       "encoding": {"x": {"field": "x", "type": "quantitative", "scale": {"domain": [-2.8, 2.64], "nice": false, "zero": false}}, "y": {"field": "y", "type": "quantitative", "scale": {"domain": [0, 4.1], "nice": false}}, "order": {"value": null}}},
      {"data": {"name": "titles"}, "transform": [{"filter": "datum.p === 'l'"}], "mark": {"type": "rect", "color": "white"},
       "encoding": {"x": {"datum": -2.83, "type": "quantitative", "scale": {"domain": [-2.8, 2.64], "nice": false, "zero": false}}, "x2": {"datum": 2.64}, "y": {"datum": 3.75, "type": "quantitative", "scale": {"domain": [0, 4.1], "nice": false}}, "y2": {"datum": 4.2}}},
      {"data": {"name": "titles"}, "transform": [{"filter": "datum.p === 'l'"}], "mark": {"type": "text", "align": "left", "baseline": "middle", "font": "Liberation Serif", "fontSize": 20, "color": "black", "dx": 1},
       "encoding": {"text": {"field": "t"}, "x": {"datum": -2.8, "type": "quantitative", "scale": {"domain": [-2.8, 2.64], "nice": false, "zero": false}}, "y": {"datum": 3.93, "type": "quantitative", "scale": {"domain": [0, 4.1], "nice": false}}}}
    ]}
  ],
  "columns": 4,
  "spacing": {"row": 26, "column": 17},
  "bounds": "flush",
  "align": "each"
}
